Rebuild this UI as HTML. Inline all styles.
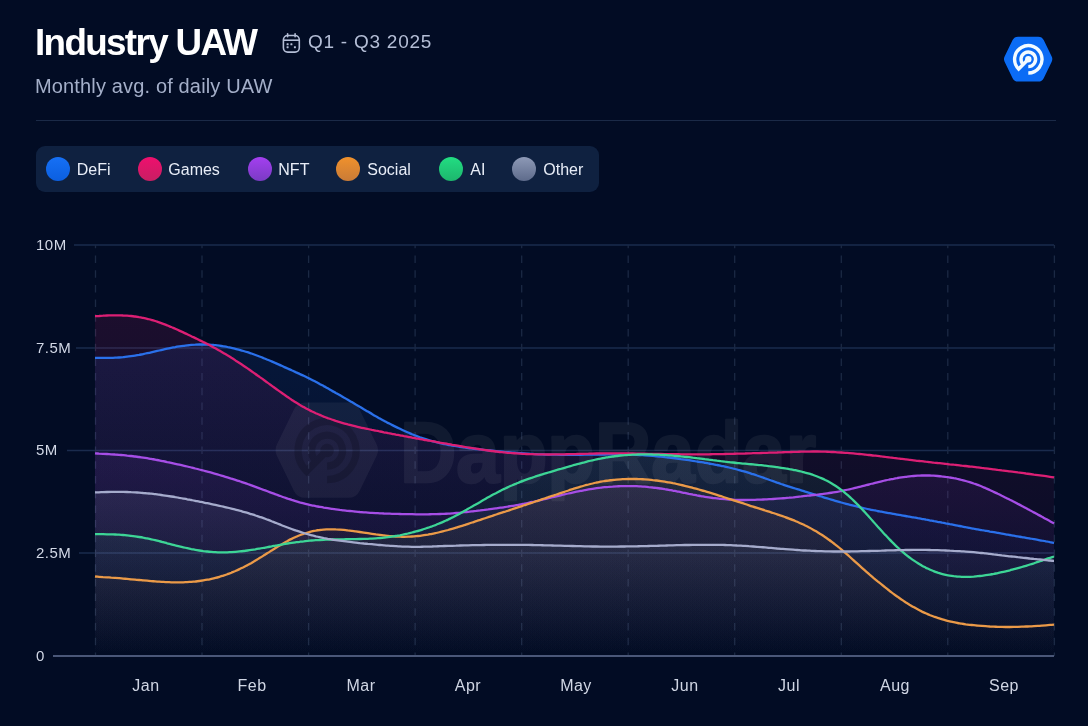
<!DOCTYPE html>
<html><head><meta charset="utf-8"><style>
*{margin:0;padding:0;box-sizing:border-box}
html,body{width:1088px;height:726px;overflow:hidden;background:#020c24;font-family:"Liberation Sans",sans-serif}
.chart{position:absolute;left:0;top:0}
.t{position:absolute;white-space:nowrap}
body>div{will-change:transform}
.title{left:35px;top:22px;font-size:36.8px;font-weight:bold;color:#ffffff;letter-spacing:-1.65px}
.sub{left:34.8px;top:75px;font-size:20px;color:#a4afc9;letter-spacing:0.15px}
.date{left:307.7px;top:31px;font-size:19px;color:#b4bed6;letter-spacing:0.75px}
.divider{position:absolute;left:36px;top:120px;width:1020px;height:1px;background:#1b2a47}
.legend{position:absolute;left:36px;top:146px;width:563px;height:46px;background:#0f2140;border-radius:9px}
.dot{position:absolute;top:10.5px;width:24px;height:24px;border-radius:50%}
.lt{position:absolute;top:15px;font-size:16px;color:#e8edf7}
.yl{position:absolute;left:36px;font-size:15px;color:#d2d8e6;letter-spacing:0.5px}
.ml{position:absolute;top:677px;width:100px;text-align:center;font-size:16px;color:#d0d6e4;letter-spacing:0.5px}
</style></head><body>
<svg class="chart" width="1088" height="726" viewBox="0 0 1088 726">
<defs><linearGradient id="g_games" gradientUnits="userSpaceOnUse" x1="0" y1="315" x2="0" y2="656"><stop offset="0" stop-color="#dc1f74" stop-opacity="0.12"/><stop offset="1" stop-color="#dc1f74" stop-opacity="0"/></linearGradient><linearGradient id="g_defi" gradientUnits="userSpaceOnUse" x1="0" y1="344" x2="0" y2="656"><stop offset="0" stop-color="#2a70ea" stop-opacity="0.11"/><stop offset="1" stop-color="#2a70ea" stop-opacity="0"/></linearGradient><linearGradient id="g_nft" gradientUnits="userSpaceOnUse" x1="0" y1="454" x2="0" y2="656"><stop offset="0" stop-color="#a64ee6" stop-opacity="0.1"/><stop offset="1" stop-color="#a64ee6" stop-opacity="0"/></linearGradient><linearGradient id="g_other" gradientUnits="userSpaceOnUse" x1="0" y1="492" x2="0" y2="656"><stop offset="0" stop-color="#a5abcc" stop-opacity="0.1"/><stop offset="1" stop-color="#a5abcc" stop-opacity="0"/></linearGradient><linearGradient id="g_ai" gradientUnits="userSpaceOnUse" x1="0" y1="454" x2="0" y2="656"><stop offset="0" stop-color="#3dd596" stop-opacity="0.09"/><stop offset="1" stop-color="#3dd596" stop-opacity="0"/></linearGradient><linearGradient id="g_social" gradientUnits="userSpaceOnUse" x1="0" y1="479" x2="0" y2="656"><stop offset="0" stop-color="#eb9a48" stop-opacity="0.07"/><stop offset="1" stop-color="#eb9a48" stop-opacity="0"/></linearGradient></defs>
<line x1="74" y1="245" x2="1054" y2="245" stroke="#1a2b4d" stroke-width="1.5"/><line x1="76" y1="348" x2="1054" y2="348" stroke="#1a2b4d" stroke-width="1.5"/><line x1="67" y1="450.5" x2="1054" y2="450.5" stroke="#1a2b4d" stroke-width="1.5"/><line x1="79" y1="553" x2="1054" y2="553" stroke="#1a2b4d" stroke-width="1.5"/>
<line x1="95.5" y1="245" x2="95.5" y2="656" stroke="#1b2944" stroke-width="1.3" stroke-dasharray="7.5 7.2" stroke-dashoffset="4.2"/><line x1="202.0" y1="245" x2="202.0" y2="656" stroke="#1b2944" stroke-width="1.3" stroke-dasharray="7.5 7.2" stroke-dashoffset="4.2"/><line x1="308.6" y1="245" x2="308.6" y2="656" stroke="#1b2944" stroke-width="1.3" stroke-dasharray="7.5 7.2" stroke-dashoffset="4.2"/><line x1="415.1" y1="245" x2="415.1" y2="656" stroke="#1b2944" stroke-width="1.3" stroke-dasharray="7.5 7.2" stroke-dashoffset="4.2"/><line x1="521.7" y1="245" x2="521.7" y2="656" stroke="#1b2944" stroke-width="1.3" stroke-dasharray="7.5 7.2" stroke-dashoffset="4.2"/><line x1="628.2" y1="245" x2="628.2" y2="656" stroke="#1b2944" stroke-width="1.3" stroke-dasharray="7.5 7.2" stroke-dashoffset="4.2"/><line x1="734.7" y1="245" x2="734.7" y2="656" stroke="#1b2944" stroke-width="1.3" stroke-dasharray="7.5 7.2" stroke-dashoffset="4.2"/><line x1="841.3" y1="245" x2="841.3" y2="656" stroke="#1b2944" stroke-width="1.3" stroke-dasharray="7.5 7.2" stroke-dashoffset="4.2"/><line x1="947.8" y1="245" x2="947.8" y2="656" stroke="#1b2944" stroke-width="1.3" stroke-dasharray="7.5 7.2" stroke-dashoffset="4.2"/><line x1="1054.4" y1="245" x2="1054.4" y2="656" stroke="#1b2944" stroke-width="1.3" stroke-dasharray="7.5 7.2" stroke-dashoffset="4.2"/>
<path d="M95.0,316.2 C95.7,316.2 97.7,316.0 99.0,316.0 C100.4,315.9 101.7,315.8 103.0,315.7 C104.4,315.7 105.7,315.6 107.0,315.5 C108.4,315.5 109.7,315.4 111.1,315.4 C112.4,315.4 113.7,315.3 115.1,315.3 C116.4,315.3 117.7,315.3 119.1,315.3 C120.4,315.4 121.8,315.4 123.1,315.5 C124.4,315.5 125.8,315.6 127.1,315.7 C128.4,315.8 129.8,315.9 131.1,316.0 C132.5,316.2 133.8,316.3 135.1,316.5 C136.5,316.7 137.8,316.9 139.1,317.1 C140.5,317.3 141.8,317.6 143.2,317.9 C144.5,318.2 145.8,318.5 147.2,318.8 C148.5,319.1 149.8,319.5 151.2,319.8 C152.5,320.2 153.9,320.6 155.2,321.0 C156.5,321.4 157.9,321.9 159.2,322.3 C160.5,322.8 161.9,323.3 163.2,323.8 C164.6,324.3 165.9,324.8 167.2,325.4 C168.6,325.9 169.9,326.5 171.2,327.0 C172.6,327.6 173.9,328.2 175.3,328.8 C176.6,329.4 177.9,330.0 179.3,330.6 C180.6,331.2 181.9,331.8 183.3,332.4 C184.6,333.0 186.0,333.7 187.3,334.3 C188.6,334.9 190.0,335.6 191.3,336.2 C192.6,336.8 194.0,337.5 195.3,338.1 C196.7,338.8 198.0,339.4 199.3,340.1 C200.7,340.7 202.0,341.4 203.3,342.1 C204.7,342.7 206.0,343.4 207.4,344.1 C208.7,344.8 210.0,345.5 211.4,346.2 C212.7,346.9 214.0,347.6 215.4,348.3 C216.7,349.0 218.1,349.8 219.4,350.5 C220.7,351.3 222.1,352.1 223.4,352.9 C224.7,353.7 226.1,354.5 227.4,355.3 C228.8,356.1 230.1,356.9 231.4,357.8 C232.8,358.6 234.1,359.5 235.4,360.4 C236.8,361.2 238.1,362.1 239.5,363.0 C240.8,363.9 242.1,364.8 243.5,365.7 C244.8,366.6 246.1,367.5 247.5,368.4 C248.8,369.3 250.2,370.3 251.5,371.2 C252.8,372.1 254.2,373.1 255.5,374.0 C256.8,375.0 258.2,375.9 259.5,376.9 C260.9,377.8 262.2,378.8 263.5,379.7 C264.9,380.7 266.2,381.7 267.5,382.6 C268.9,383.6 270.2,384.6 271.6,385.6 C272.9,386.5 274.2,387.5 275.6,388.5 C276.9,389.4 278.2,390.4 279.6,391.4 C280.9,392.3 282.3,393.3 283.6,394.2 C284.9,395.2 286.3,396.1 287.6,397.0 C288.9,397.9 290.3,398.8 291.6,399.7 C293.0,400.6 294.3,401.5 295.6,402.3 C297.0,403.2 298.3,404.0 299.6,404.8 C301.0,405.6 302.3,406.4 303.7,407.1 C305.0,407.8 306.3,408.6 307.7,409.3 C309.0,410.0 310.3,410.6 311.7,411.3 C313.0,411.9 314.4,412.5 315.7,413.2 C317.0,413.8 318.4,414.3 319.7,414.9 C321.0,415.5 322.4,416.0 323.7,416.6 C325.1,417.1 326.4,417.6 327.7,418.1 C329.1,418.6 330.4,419.1 331.7,419.5 C333.1,420.0 334.4,420.4 335.8,420.9 C337.1,421.3 338.4,421.7 339.8,422.1 C341.1,422.5 342.4,422.9 343.8,423.3 C345.1,423.7 346.5,424.0 347.8,424.4 C349.1,424.7 350.5,425.1 351.8,425.4 C353.1,425.7 354.5,426.0 355.8,426.3 C357.2,426.7 358.5,427.0 359.8,427.3 C361.2,427.6 362.5,427.9 363.8,428.2 C365.2,428.5 366.5,428.7 367.9,429.0 C369.2,429.3 370.5,429.6 371.9,429.9 C373.2,430.1 374.5,430.4 375.9,430.7 C377.2,430.9 378.6,431.2 379.9,431.5 C381.2,431.7 382.6,432.0 383.9,432.3 C385.2,432.5 386.6,432.8 387.9,433.0 C389.3,433.3 390.6,433.5 391.9,433.8 C393.3,434.1 394.6,434.3 395.9,434.6 C397.3,434.8 398.6,435.1 400.0,435.3 C401.3,435.6 402.6,435.8 404.0,436.1 C405.3,436.3 406.6,436.6 408.0,436.8 C409.3,437.1 410.7,437.3 412.0,437.6 C413.3,437.8 414.7,438.1 416.0,438.3 C417.3,438.6 418.7,438.8 420.0,439.1 C421.4,439.3 422.7,439.5 424.0,439.8 C425.4,440.0 426.7,440.3 428.0,440.5 C429.4,440.8 430.7,441.0 432.1,441.2 C433.4,441.5 434.7,441.7 436.1,441.9 C437.4,442.2 438.7,442.4 440.1,442.7 C441.4,442.9 442.8,443.1 444.1,443.4 C445.4,443.6 446.8,443.8 448.1,444.1 C449.4,444.3 450.8,444.5 452.1,444.8 C453.5,445.0 454.8,445.2 456.1,445.4 C457.5,445.7 458.8,445.9 460.1,446.1 C461.5,446.4 462.8,446.6 464.2,446.8 C465.5,447.0 466.8,447.2 468.2,447.5 C469.5,447.7 470.8,447.9 472.2,448.1 C473.5,448.3 474.9,448.5 476.2,448.7 C477.5,448.9 478.9,449.1 480.2,449.3 C481.5,449.5 482.9,449.7 484.2,449.9 C485.6,450.1 486.9,450.3 488.2,450.5 C489.6,450.7 490.9,450.8 492.2,451.0 C493.6,451.2 494.9,451.3 496.3,451.5 C497.6,451.7 498.9,451.8 500.3,452.0 C501.6,452.1 502.9,452.3 504.3,452.4 C505.6,452.5 507.0,452.7 508.3,452.8 C509.6,452.9 511.0,453.0 512.3,453.1 C513.6,453.2 515.0,453.3 516.3,453.4 C517.7,453.5 519.0,453.6 520.3,453.7 C521.7,453.8 523.0,453.8 524.3,453.9 C525.7,454.0 527.0,454.0 528.4,454.1 C529.7,454.1 531.0,454.2 532.4,454.2 C533.7,454.3 535.0,454.3 536.4,454.3 C537.7,454.4 539.1,454.4 540.4,454.4 C541.7,454.4 543.1,454.4 544.4,454.4 C545.7,454.5 547.1,454.5 548.4,454.5 C549.8,454.5 551.1,454.5 552.4,454.4 C553.8,454.4 555.1,454.4 556.4,454.4 C557.8,454.4 559.1,454.4 560.5,454.4 C561.8,454.3 563.1,454.3 564.5,454.3 C565.8,454.3 567.1,454.2 568.5,454.2 C569.8,454.2 571.2,454.1 572.5,454.1 C573.8,454.1 575.2,454.0 576.5,454.0 C577.8,453.9 579.2,453.9 580.5,453.9 C581.9,453.8 583.2,453.8 584.5,453.8 C585.9,453.7 587.2,453.7 588.5,453.7 C589.9,453.6 591.2,453.6 592.6,453.6 C593.9,453.5 595.2,453.5 596.6,453.5 C597.9,453.5 599.2,453.4 600.6,453.4 C601.9,453.4 603.3,453.4 604.6,453.4 C605.9,453.4 607.3,453.4 608.6,453.4 C609.9,453.3 611.3,453.3 612.6,453.3 C614.0,453.3 615.3,453.3 616.6,453.3 C618.0,453.4 619.3,453.4 620.6,453.4 C622.0,453.4 623.3,453.4 624.7,453.4 C626.0,453.4 627.3,453.4 628.7,453.4 C630.0,453.5 631.3,453.5 632.7,453.5 C634.0,453.5 635.4,453.5 636.7,453.6 C638.0,453.6 639.4,453.6 640.7,453.6 C642.0,453.6 643.4,453.7 644.7,453.7 C646.1,453.7 647.4,453.7 648.7,453.8 C650.1,453.8 651.4,453.8 652.7,453.8 C654.1,453.9 655.4,453.9 656.8,453.9 C658.1,453.9 659.4,454.0 660.8,454.0 C662.1,454.0 663.4,454.0 664.8,454.1 C666.1,454.1 667.5,454.1 668.8,454.1 C670.1,454.1 671.5,454.2 672.8,454.2 C674.1,454.2 675.5,454.2 676.8,454.2 C678.2,454.2 679.5,454.3 680.8,454.3 C682.2,454.3 683.5,454.3 684.8,454.3 C686.2,454.3 687.5,454.3 688.9,454.3 C690.2,454.3 691.5,454.4 692.9,454.4 C694.2,454.4 695.5,454.4 696.9,454.4 C698.2,454.4 699.6,454.3 700.9,454.3 C702.2,454.3 703.6,454.3 704.9,454.3 C706.2,454.3 707.6,454.3 708.9,454.3 C710.3,454.3 711.6,454.2 712.9,454.2 C714.3,454.2 715.6,454.2 716.9,454.2 C718.3,454.1 719.6,454.1 721.0,454.1 C722.3,454.1 723.6,454.0 725.0,454.0 C726.3,454.0 727.6,453.9 729.0,453.9 C730.3,453.9 731.7,453.8 733.0,453.8 C734.3,453.8 735.7,453.7 737.0,453.7 C738.3,453.7 739.7,453.6 741.0,453.6 C742.4,453.6 743.7,453.5 745.0,453.5 C746.4,453.4 747.7,453.4 749.0,453.4 C750.4,453.3 751.7,453.3 753.1,453.2 C754.4,453.2 755.7,453.2 757.1,453.1 C758.4,453.1 759.7,453.0 761.1,453.0 C762.4,453.0 763.8,452.9 765.1,452.9 C766.4,452.8 767.8,452.8 769.1,452.7 C770.4,452.7 771.8,452.7 773.1,452.6 C774.5,452.6 775.8,452.5 777.1,452.5 C778.5,452.4 779.8,452.4 781.1,452.3 C782.5,452.3 783.8,452.2 785.2,452.2 C786.5,452.1 787.8,452.1 789.2,452.1 C790.5,452.0 791.8,452.0 793.2,451.9 C794.5,451.9 795.9,451.8 797.2,451.8 C798.5,451.8 799.9,451.7 801.2,451.7 C802.5,451.7 803.9,451.6 805.2,451.6 C806.6,451.6 807.9,451.6 809.2,451.6 C810.6,451.5 811.9,451.5 813.2,451.5 C814.6,451.5 815.9,451.5 817.3,451.5 C818.6,451.6 819.9,451.6 821.3,451.6 C822.6,451.6 823.9,451.7 825.3,451.7 C826.6,451.7 828.0,451.8 829.3,451.8 C830.6,451.9 832.0,452.0 833.3,452.0 C834.6,452.1 836.0,452.2 837.3,452.3 C838.7,452.3 840.0,452.4 841.3,452.5 C842.7,452.6 844.0,452.7 845.3,452.8 C846.7,452.9 848.0,453.0 849.4,453.1 C850.7,453.2 852.0,453.3 853.4,453.4 C854.7,453.6 856.0,453.7 857.4,453.8 C858.7,453.9 860.1,454.1 861.4,454.2 C862.7,454.3 864.1,454.5 865.4,454.6 C866.7,454.7 868.1,454.9 869.4,455.0 C870.8,455.2 872.1,455.3 873.4,455.5 C874.8,455.6 876.1,455.8 877.4,455.9 C878.8,456.1 880.1,456.2 881.5,456.4 C882.8,456.5 884.1,456.7 885.5,456.9 C886.8,457.0 888.1,457.2 889.5,457.4 C890.8,457.5 892.2,457.7 893.5,457.9 C894.8,458.0 896.2,458.2 897.5,458.4 C898.8,458.5 900.2,458.7 901.5,458.8 C902.9,459.0 904.2,459.2 905.5,459.3 C906.9,459.5 908.2,459.7 909.5,459.8 C910.9,460.0 912.2,460.2 913.6,460.3 C914.9,460.5 916.2,460.6 917.6,460.8 C918.9,460.9 920.2,461.1 921.6,461.2 C922.9,461.4 924.3,461.5 925.6,461.7 C926.9,461.8 928.3,462.0 929.6,462.1 C930.9,462.3 932.3,462.4 933.6,462.6 C935.0,462.7 936.3,462.8 937.6,463.0 C939.0,463.1 940.3,463.3 941.6,463.4 C943.0,463.5 944.3,463.7 945.7,463.8 C947.0,464.0 948.3,464.1 949.7,464.3 C951.0,464.4 952.3,464.5 953.7,464.7 C955.0,464.8 956.4,465.0 957.7,465.1 C959.0,465.3 960.4,465.4 961.7,465.6 C963.0,465.7 964.4,465.9 965.7,466.0 C967.1,466.2 968.4,466.3 969.7,466.5 C971.1,466.6 972.4,466.8 973.7,466.9 C975.1,467.1 976.4,467.2 977.8,467.4 C979.1,467.6 980.4,467.7 981.8,467.9 C983.1,468.0 984.4,468.2 985.8,468.3 C987.1,468.5 988.5,468.7 989.8,468.8 C991.1,469.0 992.5,469.1 993.8,469.3 C995.1,469.5 996.5,469.6 997.8,469.8 C999.2,469.9 1000.5,470.1 1001.8,470.3 C1003.2,470.4 1004.5,470.6 1005.8,470.8 C1007.2,471.0 1008.5,471.1 1009.9,471.3 C1011.2,471.5 1012.5,471.7 1013.9,471.8 C1015.2,472.0 1016.5,472.2 1017.9,472.4 C1019.2,472.5 1020.6,472.7 1021.9,472.9 C1023.2,473.1 1024.6,473.3 1025.9,473.5 C1027.2,473.6 1028.6,473.8 1029.9,474.0 C1031.3,474.2 1032.6,474.4 1033.9,474.6 C1035.3,474.7 1036.6,474.9 1037.9,475.1 C1039.3,475.3 1040.6,475.5 1042.0,475.7 C1043.3,475.9 1044.6,476.1 1046.0,476.2 C1047.3,476.4 1048.6,476.6 1050.0,476.8 C1051.3,477.0 1053.3,477.3 1054.0,477.4 L1054,656 L95,656 Z" fill="url(#g_games)"/><path d="M95.0,357.9 C95.7,357.9 97.7,357.9 99.0,357.9 C100.4,357.9 101.7,357.9 103.0,357.9 C104.4,357.9 105.7,357.9 107.0,357.9 C108.4,357.9 109.7,357.9 111.1,357.9 C112.4,357.8 113.7,357.8 115.1,357.7 C116.4,357.7 117.7,357.6 119.1,357.5 C120.4,357.4 121.8,357.3 123.1,357.2 C124.4,357.0 125.8,356.9 127.1,356.7 C128.4,356.6 129.8,356.4 131.1,356.2 C132.5,356.0 133.8,355.8 135.1,355.6 C136.5,355.4 137.8,355.1 139.1,354.9 C140.5,354.6 141.8,354.4 143.2,354.1 C144.5,353.8 145.8,353.5 147.2,353.2 C148.5,352.9 149.8,352.6 151.2,352.3 C152.5,352.0 153.9,351.7 155.2,351.4 C156.5,351.1 157.9,350.8 159.2,350.5 C160.5,350.2 161.9,349.9 163.2,349.6 C164.6,349.3 165.9,349.0 167.2,348.7 C168.6,348.4 169.9,348.1 171.2,347.8 C172.6,347.6 173.9,347.3 175.3,347.1 C176.6,346.8 177.9,346.6 179.3,346.4 C180.6,346.2 181.9,346.0 183.3,345.8 C184.6,345.6 186.0,345.5 187.3,345.3 C188.6,345.2 190.0,345.0 191.3,344.9 C192.6,344.8 194.0,344.7 195.3,344.7 C196.7,344.6 198.0,344.5 199.3,344.5 C200.7,344.5 202.0,344.5 203.3,344.5 C204.7,344.5 206.0,344.5 207.4,344.6 C208.7,344.7 210.0,344.7 211.4,344.8 C212.7,344.9 214.0,345.1 215.4,345.2 C216.7,345.3 218.1,345.5 219.4,345.7 C220.7,345.9 222.1,346.1 223.4,346.3 C224.7,346.5 226.1,346.7 227.4,347.0 C228.8,347.3 230.1,347.5 231.4,347.8 C232.8,348.1 234.1,348.5 235.4,348.8 C236.8,349.1 238.1,349.5 239.5,349.8 C240.8,350.2 242.1,350.6 243.5,351.0 C244.8,351.4 246.1,351.8 247.5,352.2 C248.8,352.6 250.2,353.1 251.5,353.5 C252.8,354.0 254.2,354.5 255.5,355.0 C256.8,355.5 258.2,356.0 259.5,356.5 C260.9,357.0 262.2,357.5 263.5,358.1 C264.9,358.6 266.2,359.2 267.5,359.7 C268.9,360.3 270.2,360.8 271.6,361.4 C272.9,362.0 274.2,362.6 275.6,363.1 C276.9,363.7 278.2,364.3 279.6,364.9 C280.9,365.5 282.3,366.1 283.6,366.7 C284.9,367.3 286.3,367.9 287.6,368.5 C288.9,369.1 290.3,369.7 291.6,370.3 C293.0,370.9 294.3,371.5 295.6,372.1 C297.0,372.7 298.3,373.3 299.6,373.9 C301.0,374.5 302.3,375.2 303.7,375.8 C305.0,376.4 306.3,377.1 307.7,377.8 C309.0,378.4 310.3,379.1 311.7,379.8 C313.0,380.5 314.4,381.1 315.7,381.8 C317.0,382.5 318.4,383.2 319.7,384.0 C321.0,384.7 322.4,385.4 323.7,386.1 C325.1,386.8 326.4,387.6 327.7,388.3 C329.1,389.1 330.4,389.8 331.7,390.6 C333.1,391.3 334.4,392.1 335.8,392.9 C337.1,393.6 338.4,394.4 339.8,395.1 C341.1,395.9 342.4,396.7 343.8,397.5 C345.1,398.2 346.5,399.0 347.8,399.8 C349.1,400.6 350.5,401.3 351.8,402.1 C353.1,402.9 354.5,403.7 355.8,404.5 C357.2,405.2 358.5,406.0 359.8,406.8 C361.2,407.6 362.5,408.4 363.8,409.2 C365.2,410.0 366.5,410.8 367.9,411.6 C369.2,412.4 370.5,413.2 371.9,413.9 C373.2,414.7 374.5,415.5 375.9,416.3 C377.2,417.0 378.6,417.8 379.9,418.5 C381.2,419.3 382.6,420.0 383.9,420.7 C385.2,421.4 386.6,422.2 387.9,422.9 C389.3,423.6 390.6,424.2 391.9,424.9 C393.3,425.6 394.6,426.3 395.9,426.9 C397.3,427.6 398.6,428.2 400.0,428.8 C401.3,429.5 402.6,430.1 404.0,430.7 C405.3,431.3 406.6,431.9 408.0,432.5 C409.3,433.1 410.7,433.6 412.0,434.2 C413.3,434.7 414.7,435.3 416.0,435.8 C417.3,436.3 418.7,436.8 420.0,437.3 C421.4,437.7 422.7,438.2 424.0,438.6 C425.4,439.1 426.7,439.5 428.0,439.9 C429.4,440.3 430.7,440.7 432.1,441.1 C433.4,441.5 434.7,441.8 436.1,442.2 C437.4,442.5 438.7,442.8 440.1,443.2 C441.4,443.5 442.8,443.8 444.1,444.0 C445.4,444.3 446.8,444.6 448.1,444.8 C449.4,445.1 450.8,445.3 452.1,445.6 C453.5,445.8 454.8,446.0 456.1,446.2 C457.5,446.5 458.8,446.7 460.1,446.9 C461.5,447.1 462.8,447.2 464.2,447.4 C465.5,447.6 466.8,447.8 468.2,448.0 C469.5,448.1 470.8,448.3 472.2,448.5 C473.5,448.6 474.9,448.8 476.2,449.0 C477.5,449.1 478.9,449.3 480.2,449.4 C481.5,449.6 482.9,449.7 484.2,449.9 C485.6,450.0 486.9,450.2 488.2,450.3 C489.6,450.4 490.9,450.6 492.2,450.7 C493.6,450.8 494.9,451.0 496.3,451.1 C497.6,451.2 498.9,451.4 500.3,451.5 C501.6,451.6 502.9,451.7 504.3,451.9 C505.6,452.0 507.0,452.1 508.3,452.2 C509.6,452.3 511.0,452.5 512.3,452.6 C513.6,452.7 515.0,452.8 516.3,452.9 C517.7,453.0 519.0,453.1 520.3,453.2 C521.7,453.3 523.0,453.4 524.3,453.5 C525.7,453.6 527.0,453.6 528.4,453.7 C529.7,453.8 531.0,453.9 532.4,453.9 C533.7,454.0 535.0,454.1 536.4,454.1 C537.7,454.2 539.1,454.3 540.4,454.3 C541.7,454.4 543.1,454.4 544.4,454.5 C545.7,454.5 547.1,454.5 548.4,454.6 C549.8,454.6 551.1,454.6 552.4,454.7 C553.8,454.7 555.1,454.7 556.4,454.7 C557.8,454.8 559.1,454.8 560.5,454.8 C561.8,454.8 563.1,454.8 564.5,454.8 C565.8,454.8 567.1,454.8 568.5,454.8 C569.8,454.8 571.2,454.8 572.5,454.8 C573.8,454.8 575.2,454.8 576.5,454.8 C577.8,454.8 579.2,454.8 580.5,454.8 C581.9,454.7 583.2,454.7 584.5,454.7 C585.9,454.7 587.2,454.7 588.5,454.7 C589.9,454.7 591.2,454.6 592.6,454.6 C593.9,454.6 595.2,454.6 596.6,454.6 C597.9,454.5 599.2,454.5 600.6,454.5 C601.9,454.5 603.3,454.5 604.6,454.5 C605.9,454.5 607.3,454.4 608.6,454.4 C609.9,454.4 611.3,454.4 612.6,454.4 C614.0,454.4 615.3,454.4 616.6,454.4 C618.0,454.4 619.3,454.4 620.6,454.4 C622.0,454.4 623.3,454.5 624.7,454.5 C626.0,454.5 627.3,454.5 628.7,454.6 C630.0,454.6 631.3,454.6 632.7,454.7 C634.0,454.7 635.4,454.8 636.7,454.9 C638.0,454.9 639.4,455.0 640.7,455.1 C642.0,455.2 643.4,455.2 644.7,455.3 C646.1,455.4 647.4,455.5 648.7,455.6 C650.1,455.7 651.4,455.8 652.7,455.9 C654.1,456.0 655.4,456.2 656.8,456.3 C658.1,456.4 659.4,456.5 660.8,456.7 C662.1,456.8 663.4,456.9 664.8,457.1 C666.1,457.2 667.5,457.4 668.8,457.5 C670.1,457.7 671.5,457.9 672.8,458.0 C674.1,458.2 675.5,458.4 676.8,458.5 C678.2,458.7 679.5,458.9 680.8,459.1 C682.2,459.2 683.5,459.4 684.8,459.6 C686.2,459.8 687.5,460.0 688.9,460.2 C690.2,460.4 691.5,460.6 692.9,460.8 C694.2,461.0 695.5,461.2 696.9,461.5 C698.2,461.7 699.6,461.9 700.9,462.1 C702.2,462.3 703.6,462.5 704.9,462.8 C706.2,463.0 707.6,463.2 708.9,463.5 C710.3,463.7 711.6,464.0 712.9,464.2 C714.3,464.5 715.6,464.7 716.9,465.0 C718.3,465.2 719.6,465.5 721.0,465.8 C722.3,466.1 723.6,466.3 725.0,466.6 C726.3,466.9 727.6,467.2 729.0,467.5 C730.3,467.8 731.7,468.2 733.0,468.5 C734.3,468.8 735.7,469.2 737.0,469.5 C738.3,469.9 739.7,470.2 741.0,470.6 C742.4,471.0 743.7,471.3 745.0,471.7 C746.4,472.1 747.7,472.5 749.0,472.9 C750.4,473.3 751.7,473.8 753.1,474.2 C754.4,474.6 755.7,475.0 757.1,475.5 C758.4,475.9 759.7,476.4 761.1,476.9 C762.4,477.3 763.8,477.8 765.1,478.3 C766.4,478.7 767.8,479.2 769.1,479.7 C770.4,480.2 771.8,480.7 773.1,481.1 C774.5,481.6 775.8,482.1 777.1,482.6 C778.5,483.0 779.8,483.5 781.1,484.0 C782.5,484.4 783.8,484.9 785.2,485.3 C786.5,485.7 787.8,486.2 789.2,486.6 C790.5,487.0 791.8,487.4 793.2,487.9 C794.5,488.3 795.9,488.7 797.2,489.1 C798.5,489.5 799.9,489.9 801.2,490.3 C802.5,490.7 803.9,491.1 805.2,491.6 C806.6,492.0 807.9,492.4 809.2,492.8 C810.6,493.2 811.9,493.6 813.2,494.0 C814.6,494.4 815.9,494.9 817.3,495.3 C818.6,495.7 819.9,496.1 821.3,496.5 C822.6,496.9 823.9,497.4 825.3,497.8 C826.6,498.2 828.0,498.6 829.3,499.0 C830.6,499.4 832.0,499.8 833.3,500.2 C834.6,500.6 836.0,501.0 837.3,501.4 C838.7,501.8 840.0,502.2 841.3,502.5 C842.7,502.9 844.0,503.3 845.3,503.6 C846.7,504.0 848.0,504.3 849.4,504.7 C850.7,505.0 852.0,505.4 853.4,505.7 C854.7,506.0 856.0,506.3 857.4,506.7 C858.7,507.0 860.1,507.3 861.4,507.6 C862.7,507.9 864.1,508.2 865.4,508.5 C866.7,508.8 868.1,509.1 869.4,509.3 C870.8,509.6 872.1,509.9 873.4,510.2 C874.8,510.4 876.1,510.7 877.4,511.0 C878.8,511.2 880.1,511.5 881.5,511.7 C882.8,512.0 884.1,512.2 885.5,512.5 C886.8,512.7 888.1,513.0 889.5,513.2 C890.8,513.5 892.2,513.7 893.5,513.9 C894.8,514.2 896.2,514.4 897.5,514.6 C898.8,514.9 900.2,515.1 901.5,515.3 C902.9,515.6 904.2,515.8 905.5,516.0 C906.9,516.2 908.2,516.5 909.5,516.7 C910.9,516.9 912.2,517.2 913.6,517.4 C914.9,517.6 916.2,517.9 917.6,518.1 C918.9,518.3 920.2,518.6 921.6,518.8 C922.9,519.0 924.3,519.3 925.6,519.5 C926.9,519.8 928.3,520.0 929.6,520.3 C930.9,520.5 932.3,520.8 933.6,521.0 C935.0,521.3 936.3,521.5 937.6,521.8 C939.0,522.0 940.3,522.3 941.6,522.5 C943.0,522.8 944.3,523.0 945.7,523.3 C947.0,523.5 948.3,523.8 949.7,524.1 C951.0,524.3 952.3,524.6 953.7,524.8 C955.0,525.1 956.4,525.4 957.7,525.6 C959.0,525.9 960.4,526.1 961.7,526.4 C963.0,526.7 964.4,526.9 965.7,527.2 C967.1,527.4 968.4,527.7 969.7,527.9 C971.1,528.2 972.4,528.4 973.7,528.7 C975.1,528.9 976.4,529.2 977.8,529.4 C979.1,529.7 980.4,529.9 981.8,530.2 C983.1,530.4 984.4,530.6 985.8,530.9 C987.1,531.1 988.5,531.3 989.8,531.6 C991.1,531.8 992.5,532.0 993.8,532.2 C995.1,532.5 996.5,532.7 997.8,532.9 C999.2,533.2 1000.5,533.4 1001.8,533.6 C1003.2,533.9 1004.5,534.1 1005.8,534.3 C1007.2,534.5 1008.5,534.8 1009.9,535.0 C1011.2,535.2 1012.5,535.5 1013.9,535.7 C1015.2,535.9 1016.5,536.2 1017.9,536.4 C1019.2,536.6 1020.6,536.9 1021.9,537.1 C1023.2,537.3 1024.6,537.6 1025.9,537.8 C1027.2,538.1 1028.6,538.3 1029.9,538.5 C1031.3,538.8 1032.6,539.0 1033.9,539.2 C1035.3,539.5 1036.6,539.7 1037.9,539.9 C1039.3,540.2 1040.6,540.4 1042.0,540.7 C1043.3,540.9 1044.6,541.1 1046.0,541.4 C1047.3,541.6 1048.6,541.8 1050.0,542.1 C1051.3,542.3 1053.3,542.7 1054.0,542.8 L1054,656 L95,656 Z" fill="url(#g_defi)"/><path d="M95.0,453.3 C95.7,453.4 97.7,453.5 99.0,453.6 C100.4,453.6 101.7,453.7 103.0,453.8 C104.4,453.8 105.7,453.9 107.0,454.0 C108.4,454.1 109.7,454.2 111.1,454.3 C112.4,454.3 113.7,454.4 115.1,454.5 C116.4,454.6 117.7,454.7 119.1,454.8 C120.4,454.9 121.8,455.1 123.1,455.2 C124.4,455.3 125.8,455.4 127.1,455.6 C128.4,455.7 129.8,455.9 131.1,456.0 C132.5,456.2 133.8,456.3 135.1,456.5 C136.5,456.7 137.8,456.8 139.1,457.0 C140.5,457.2 141.8,457.4 143.2,457.6 C144.5,457.8 145.8,458.0 147.2,458.2 C148.5,458.4 149.8,458.7 151.2,458.9 C152.5,459.1 153.9,459.4 155.2,459.6 C156.5,459.9 157.9,460.1 159.2,460.4 C160.5,460.7 161.9,460.9 163.2,461.2 C164.6,461.5 165.9,461.8 167.2,462.1 C168.6,462.3 169.9,462.6 171.2,462.9 C172.6,463.2 173.9,463.5 175.3,463.8 C176.6,464.1 177.9,464.4 179.3,464.7 C180.6,465.0 181.9,465.3 183.3,465.6 C184.6,465.9 186.0,466.2 187.3,466.5 C188.6,466.8 190.0,467.2 191.3,467.5 C192.6,467.8 194.0,468.1 195.3,468.5 C196.7,468.8 198.0,469.1 199.3,469.5 C200.7,469.8 202.0,470.2 203.3,470.5 C204.7,470.9 206.0,471.2 207.4,471.6 C208.7,472.0 210.0,472.3 211.4,472.7 C212.7,473.1 214.0,473.5 215.4,473.8 C216.7,474.2 218.1,474.6 219.4,475.0 C220.7,475.4 222.1,475.8 223.4,476.2 C224.7,476.6 226.1,477.0 227.4,477.4 C228.8,477.8 230.1,478.2 231.4,478.7 C232.8,479.1 234.1,479.5 235.4,479.9 C236.8,480.4 238.1,480.8 239.5,481.2 C240.8,481.7 242.1,482.1 243.5,482.6 C244.8,483.1 246.1,483.5 247.5,484.0 C248.8,484.5 250.2,484.9 251.5,485.4 C252.8,485.9 254.2,486.4 255.5,486.9 C256.8,487.4 258.2,487.9 259.5,488.4 C260.9,488.9 262.2,489.4 263.5,489.9 C264.9,490.3 266.2,490.8 267.5,491.3 C268.9,491.8 270.2,492.3 271.6,492.8 C272.9,493.3 274.2,493.8 275.6,494.3 C276.9,494.8 278.2,495.3 279.6,495.8 C280.9,496.3 282.3,496.7 283.6,497.2 C284.9,497.7 286.3,498.1 287.6,498.6 C288.9,499.0 290.3,499.4 291.6,499.9 C293.0,500.3 294.3,500.7 295.6,501.1 C297.0,501.5 298.3,501.9 299.6,502.3 C301.0,502.6 302.3,503.0 303.7,503.3 C305.0,503.7 306.3,504.0 307.7,504.3 C309.0,504.7 310.3,505.0 311.7,505.3 C313.0,505.6 314.4,505.8 315.7,506.1 C317.0,506.4 318.4,506.6 319.7,506.9 C321.0,507.1 322.4,507.3 323.7,507.6 C325.1,507.8 326.4,508.0 327.7,508.2 C329.1,508.4 330.4,508.6 331.7,508.8 C333.1,509.0 334.4,509.2 335.8,509.3 C337.1,509.5 338.4,509.7 339.8,509.9 C341.1,510.0 342.4,510.2 343.8,510.3 C345.1,510.5 346.5,510.6 347.8,510.8 C349.1,510.9 350.5,511.1 351.8,511.2 C353.1,511.3 354.5,511.5 355.8,511.6 C357.2,511.7 358.5,511.8 359.8,512.0 C361.2,512.1 362.5,512.2 363.8,512.3 C365.2,512.4 366.5,512.5 367.9,512.6 C369.2,512.7 370.5,512.8 371.9,512.8 C373.2,512.9 374.5,513.0 375.9,513.1 C377.2,513.2 378.6,513.2 379.9,513.3 C381.2,513.4 382.6,513.4 383.9,513.5 C385.2,513.5 386.6,513.6 387.9,513.6 C389.3,513.7 390.6,513.7 391.9,513.8 C393.3,513.8 394.6,513.8 395.9,513.9 C397.3,513.9 398.6,514.0 400.0,514.0 C401.3,514.0 402.6,514.1 404.0,514.1 C405.3,514.1 406.6,514.1 408.0,514.2 C409.3,514.2 410.7,514.2 412.0,514.2 C413.3,514.2 414.7,514.2 416.0,514.3 C417.3,514.3 418.7,514.3 420.0,514.3 C421.4,514.3 422.7,514.3 424.0,514.3 C425.4,514.3 426.7,514.3 428.0,514.3 C429.4,514.3 430.7,514.2 432.1,514.2 C433.4,514.2 434.7,514.2 436.1,514.1 C437.4,514.1 438.7,514.1 440.1,514.0 C441.4,514.0 442.8,513.9 444.1,513.9 C445.4,513.8 446.8,513.7 448.1,513.6 C449.4,513.6 450.8,513.5 452.1,513.4 C453.5,513.3 454.8,513.1 456.1,513.0 C457.5,512.9 458.8,512.8 460.1,512.7 C461.5,512.5 462.8,512.4 464.2,512.2 C465.5,512.1 466.8,512.0 468.2,511.8 C469.5,511.7 470.8,511.5 472.2,511.3 C473.5,511.2 474.9,511.0 476.2,510.9 C477.5,510.7 478.9,510.5 480.2,510.4 C481.5,510.2 482.9,510.0 484.2,509.9 C485.6,509.7 486.9,509.5 488.2,509.4 C489.6,509.2 490.9,509.0 492.2,508.8 C493.6,508.7 494.9,508.5 496.3,508.3 C497.6,508.1 498.9,507.9 500.3,507.7 C501.6,507.6 502.9,507.4 504.3,507.2 C505.6,507.0 507.0,506.8 508.3,506.5 C509.6,506.3 511.0,506.1 512.3,505.9 C513.6,505.7 515.0,505.4 516.3,505.2 C517.7,505.0 519.0,504.7 520.3,504.5 C521.7,504.2 523.0,503.9 524.3,503.7 C525.7,503.4 527.0,503.1 528.4,502.8 C529.7,502.5 531.0,502.2 532.4,502.0 C533.7,501.7 535.0,501.4 536.4,501.0 C537.7,500.7 539.1,500.4 540.4,500.1 C541.7,499.8 543.1,499.5 544.4,499.2 C545.7,498.8 547.1,498.5 548.4,498.2 C549.8,497.9 551.1,497.6 552.4,497.2 C553.8,496.9 555.1,496.6 556.4,496.3 C557.8,496.0 559.1,495.6 560.5,495.3 C561.8,495.0 563.1,494.7 564.5,494.4 C565.8,494.1 567.1,493.8 568.5,493.5 C569.8,493.2 571.2,492.9 572.5,492.6 C573.8,492.3 575.2,492.0 576.5,491.7 C577.8,491.5 579.2,491.2 580.5,490.9 C581.9,490.7 583.2,490.4 584.5,490.2 C585.9,489.9 587.2,489.7 588.5,489.4 C589.9,489.2 591.2,489.0 592.6,488.8 C593.9,488.6 595.2,488.4 596.6,488.2 C597.9,488.0 599.2,487.8 600.6,487.7 C601.9,487.5 603.3,487.4 604.6,487.2 C605.9,487.1 607.3,487.0 608.6,486.9 C609.9,486.7 611.3,486.6 612.6,486.6 C614.0,486.5 615.3,486.4 616.6,486.3 C618.0,486.3 619.3,486.2 620.6,486.2 C622.0,486.1 623.3,486.1 624.7,486.1 C626.0,486.1 627.3,486.1 628.7,486.1 C630.0,486.1 631.3,486.1 632.7,486.1 C634.0,486.1 635.4,486.2 636.7,486.2 C638.0,486.3 639.4,486.4 640.7,486.4 C642.0,486.5 643.4,486.6 644.7,486.7 C646.1,486.8 647.4,486.9 648.7,487.1 C650.1,487.2 651.4,487.3 652.7,487.5 C654.1,487.6 655.4,487.8 656.8,488.0 C658.1,488.2 659.4,488.3 660.8,488.5 C662.1,488.7 663.4,488.9 664.8,489.2 C666.1,489.4 667.5,489.6 668.8,489.8 C670.1,490.1 671.5,490.3 672.8,490.6 C674.1,490.8 675.5,491.1 676.8,491.3 C678.2,491.6 679.5,491.8 680.8,492.1 C682.2,492.4 683.5,492.7 684.8,492.9 C686.2,493.2 687.5,493.5 688.9,493.8 C690.2,494.0 691.5,494.3 692.9,494.6 C694.2,494.8 695.5,495.1 696.9,495.4 C698.2,495.6 699.6,495.9 700.9,496.1 C702.2,496.3 703.6,496.6 704.9,496.8 C706.2,497.0 707.6,497.2 708.9,497.4 C710.3,497.6 711.6,497.8 712.9,498.0 C714.3,498.1 715.6,498.3 716.9,498.4 C718.3,498.6 719.6,498.7 721.0,498.9 C722.3,499.0 723.6,499.1 725.0,499.2 C726.3,499.3 727.6,499.4 729.0,499.5 C730.3,499.6 731.7,499.7 733.0,499.7 C734.3,499.8 735.7,499.9 737.0,499.9 C738.3,499.9 739.7,500.0 741.0,500.0 C742.4,500.0 743.7,500.0 745.0,500.0 C746.4,500.0 747.7,500.0 749.0,499.9 C750.4,499.9 751.7,499.9 753.1,499.9 C754.4,499.8 755.7,499.8 757.1,499.7 C758.4,499.7 759.7,499.7 761.1,499.6 C762.4,499.5 763.8,499.5 765.1,499.4 C766.4,499.4 767.8,499.3 769.1,499.2 C770.4,499.1 771.8,499.1 773.1,499.0 C774.5,498.9 775.8,498.8 777.1,498.7 C778.5,498.6 779.8,498.5 781.1,498.4 C782.5,498.3 783.8,498.2 785.2,498.1 C786.5,497.9 787.8,497.8 789.2,497.7 C790.5,497.5 791.8,497.4 793.2,497.3 C794.5,497.1 795.9,497.0 797.2,496.8 C798.5,496.7 799.9,496.5 801.2,496.4 C802.5,496.2 803.9,496.1 805.2,495.9 C806.6,495.8 807.9,495.6 809.2,495.5 C810.6,495.3 811.9,495.2 813.2,495.0 C814.6,494.9 815.9,494.7 817.3,494.6 C818.6,494.4 819.9,494.3 821.3,494.1 C822.6,493.9 823.9,493.8 825.3,493.6 C826.6,493.4 828.0,493.2 829.3,493.0 C830.6,492.9 832.0,492.7 833.3,492.4 C834.6,492.2 836.0,492.0 837.3,491.8 C838.7,491.6 840.0,491.3 841.3,491.0 C842.7,490.8 844.0,490.5 845.3,490.2 C846.7,489.9 848.0,489.6 849.4,489.3 C850.7,489.0 852.0,488.7 853.4,488.4 C854.7,488.1 856.0,487.7 857.4,487.4 C858.7,487.1 860.1,486.7 861.4,486.4 C862.7,486.0 864.1,485.7 865.4,485.3 C866.7,485.0 868.1,484.7 869.4,484.3 C870.8,484.0 872.1,483.6 873.4,483.3 C874.8,482.9 876.1,482.6 877.4,482.3 C878.8,482.0 880.1,481.6 881.5,481.3 C882.8,481.0 884.1,480.7 885.5,480.4 C886.8,480.1 888.1,479.8 889.5,479.5 C890.8,479.3 892.2,479.0 893.5,478.8 C894.8,478.5 896.2,478.3 897.5,478.0 C898.8,477.8 900.2,477.6 901.5,477.4 C902.9,477.2 904.2,477.0 905.5,476.8 C906.9,476.6 908.2,476.5 909.5,476.3 C910.9,476.2 912.2,476.1 913.6,476.0 C914.9,475.9 916.2,475.8 917.6,475.7 C918.9,475.6 920.2,475.6 921.6,475.5 C922.9,475.5 924.3,475.5 925.6,475.5 C926.9,475.5 928.3,475.5 929.6,475.5 C930.9,475.6 932.3,475.6 933.6,475.7 C935.0,475.8 936.3,475.9 937.6,476.0 C939.0,476.1 940.3,476.2 941.6,476.4 C943.0,476.5 944.3,476.7 945.7,476.9 C947.0,477.0 948.3,477.2 949.7,477.5 C951.0,477.7 952.3,477.9 953.7,478.2 C955.0,478.4 956.4,478.7 957.7,479.0 C959.0,479.3 960.4,479.6 961.7,480.0 C963.0,480.3 964.4,480.6 965.7,481.0 C967.1,481.4 968.4,481.8 969.7,482.2 C971.1,482.6 972.4,483.0 973.7,483.5 C975.1,484.0 976.4,484.4 977.8,484.9 C979.1,485.4 980.4,486.0 981.8,486.5 C983.1,487.1 984.4,487.6 985.8,488.2 C987.1,488.8 988.5,489.4 989.8,490.0 C991.1,490.6 992.5,491.2 993.8,491.9 C995.1,492.5 996.5,493.1 997.8,493.8 C999.2,494.4 1000.5,495.1 1001.8,495.8 C1003.2,496.4 1004.5,497.1 1005.8,497.7 C1007.2,498.4 1008.5,499.1 1009.9,499.8 C1011.2,500.4 1012.5,501.1 1013.9,501.8 C1015.2,502.5 1016.5,503.2 1017.9,503.9 C1019.2,504.5 1020.6,505.2 1021.9,505.9 C1023.2,506.6 1024.6,507.3 1025.9,508.1 C1027.2,508.8 1028.6,509.5 1029.9,510.2 C1031.3,510.9 1032.6,511.6 1033.9,512.4 C1035.3,513.1 1036.6,513.8 1037.9,514.6 C1039.3,515.3 1040.6,516.0 1042.0,516.8 C1043.3,517.5 1044.6,518.3 1046.0,519.0 C1047.3,519.7 1048.6,520.5 1050.0,521.2 C1051.3,522.0 1053.3,523.1 1054.0,523.5 L1054,656 L95,656 Z" fill="url(#g_nft)"/><path d="M95.0,492.4 C95.7,492.4 97.7,492.3 99.0,492.3 C100.4,492.2 101.7,492.2 103.0,492.1 C104.4,492.1 105.7,492.1 107.0,492.0 C108.4,492.0 109.7,492.0 111.1,491.9 C112.4,491.9 113.7,491.9 115.1,491.9 C116.4,491.9 117.7,491.9 119.1,491.9 C120.4,491.9 121.8,491.9 123.1,491.9 C124.4,492.0 125.8,492.0 127.1,492.0 C128.4,492.1 129.8,492.1 131.1,492.2 C132.5,492.2 133.8,492.3 135.1,492.4 C136.5,492.5 137.8,492.5 139.1,492.6 C140.5,492.7 141.8,492.8 143.2,493.0 C144.5,493.1 145.8,493.2 147.2,493.3 C148.5,493.4 149.8,493.6 151.2,493.7 C152.5,493.9 153.9,494.0 155.2,494.2 C156.5,494.4 157.9,494.5 159.2,494.7 C160.5,494.9 161.9,495.1 163.2,495.3 C164.6,495.5 165.9,495.7 167.2,495.9 C168.6,496.1 169.9,496.3 171.2,496.5 C172.6,496.7 173.9,496.9 175.3,497.2 C176.6,497.4 177.9,497.6 179.3,497.9 C180.6,498.1 181.9,498.3 183.3,498.6 C184.6,498.8 186.0,499.0 187.3,499.3 C188.6,499.5 190.0,499.8 191.3,500.0 C192.6,500.3 194.0,500.6 195.3,500.8 C196.7,501.1 198.0,501.3 199.3,501.6 C200.7,501.9 202.0,502.1 203.3,502.4 C204.7,502.7 206.0,503.0 207.4,503.2 C208.7,503.5 210.0,503.8 211.4,504.1 C212.7,504.4 214.0,504.7 215.4,504.9 C216.7,505.2 218.1,505.5 219.4,505.8 C220.7,506.1 222.1,506.4 223.4,506.7 C224.7,507.0 226.1,507.3 227.4,507.7 C228.8,508.0 230.1,508.3 231.4,508.6 C232.8,508.9 234.1,509.3 235.4,509.6 C236.8,510.0 238.1,510.3 239.5,510.7 C240.8,511.0 242.1,511.4 243.5,511.8 C244.8,512.2 246.1,512.5 247.5,512.9 C248.8,513.3 250.2,513.8 251.5,514.2 C252.8,514.6 254.2,515.0 255.5,515.5 C256.8,515.9 258.2,516.4 259.5,516.8 C260.9,517.3 262.2,517.8 263.5,518.2 C264.9,518.7 266.2,519.2 267.5,519.7 C268.9,520.2 270.2,520.7 271.6,521.3 C272.9,521.8 274.2,522.3 275.6,522.8 C276.9,523.4 278.2,523.9 279.6,524.4 C280.9,524.9 282.3,525.5 283.6,526.0 C284.9,526.5 286.3,527.0 287.6,527.5 C288.9,528.0 290.3,528.5 291.6,529.0 C293.0,529.5 294.3,529.9 295.6,530.4 C297.0,530.9 298.3,531.3 299.6,531.7 C301.0,532.2 302.3,532.6 303.7,533.0 C305.0,533.4 306.3,533.8 307.7,534.2 C309.0,534.6 310.3,534.9 311.7,535.3 C313.0,535.6 314.4,535.9 315.7,536.3 C317.0,536.6 318.4,536.9 319.7,537.2 C321.0,537.5 322.4,537.7 323.7,538.0 C325.1,538.3 326.4,538.5 327.7,538.8 C329.1,539.0 330.4,539.2 331.7,539.5 C333.1,539.7 334.4,539.9 335.8,540.1 C337.1,540.3 338.4,540.5 339.8,540.7 C341.1,540.9 342.4,541.1 343.8,541.2 C345.1,541.4 346.5,541.6 347.8,541.7 C349.1,541.9 350.5,542.1 351.8,542.2 C353.1,542.4 354.5,542.5 355.8,542.6 C357.2,542.8 358.5,542.9 359.8,543.1 C361.2,543.2 362.5,543.3 363.8,543.5 C365.2,543.6 366.5,543.7 367.9,543.9 C369.2,544.0 370.5,544.1 371.9,544.2 C373.2,544.4 374.5,544.5 375.9,544.6 C377.2,544.7 378.6,544.9 379.9,545.0 C381.2,545.1 382.6,545.2 383.9,545.3 C385.2,545.4 386.6,545.5 387.9,545.7 C389.3,545.8 390.6,545.9 391.9,545.9 C393.3,546.0 394.6,546.1 395.9,546.2 C397.3,546.3 398.6,546.4 400.0,546.4 C401.3,546.5 402.6,546.6 404.0,546.6 C405.3,546.7 406.6,546.7 408.0,546.7 C409.3,546.8 410.7,546.8 412.0,546.8 C413.3,546.8 414.7,546.8 416.0,546.8 C417.3,546.8 418.7,546.8 420.0,546.8 C421.4,546.8 422.7,546.7 424.0,546.7 C425.4,546.7 426.7,546.6 428.0,546.6 C429.4,546.6 430.7,546.5 432.1,546.5 C433.4,546.4 434.7,546.4 436.1,546.3 C437.4,546.3 438.7,546.2 440.1,546.2 C441.4,546.1 442.8,546.1 444.1,546.0 C445.4,546.0 446.8,546.0 448.1,545.9 C449.4,545.9 450.8,545.8 452.1,545.8 C453.5,545.7 454.8,545.7 456.1,545.7 C457.5,545.6 458.8,545.6 460.1,545.5 C461.5,545.5 462.8,545.5 464.2,545.4 C465.5,545.4 466.8,545.4 468.2,545.3 C469.5,545.3 470.8,545.3 472.2,545.2 C473.5,545.2 474.9,545.2 476.2,545.1 C477.5,545.1 478.9,545.1 480.2,545.1 C481.5,545.0 482.9,545.0 484.2,545.0 C485.6,545.0 486.9,544.9 488.2,544.9 C489.6,544.9 490.9,544.9 492.2,544.9 C493.6,544.9 494.9,544.8 496.3,544.8 C497.6,544.8 498.9,544.8 500.3,544.8 C501.6,544.8 502.9,544.8 504.3,544.8 C505.6,544.8 507.0,544.8 508.3,544.8 C509.6,544.8 511.0,544.8 512.3,544.8 C513.6,544.8 515.0,544.8 516.3,544.8 C517.7,544.8 519.0,544.8 520.3,544.8 C521.7,544.9 523.0,544.9 524.3,544.9 C525.7,544.9 527.0,544.9 528.4,544.9 C529.7,545.0 531.0,545.0 532.4,545.0 C533.7,545.0 535.0,545.1 536.4,545.1 C537.7,545.1 539.1,545.2 540.4,545.2 C541.7,545.2 543.1,545.3 544.4,545.3 C545.7,545.3 547.1,545.4 548.4,545.4 C549.8,545.4 551.1,545.5 552.4,545.5 C553.8,545.5 555.1,545.6 556.4,545.6 C557.8,545.7 559.1,545.7 560.5,545.7 C561.8,545.8 563.1,545.8 564.5,545.8 C565.8,545.9 567.1,545.9 568.5,545.9 C569.8,546.0 571.2,546.0 572.5,546.0 C573.8,546.1 575.2,546.1 576.5,546.1 C577.8,546.2 579.2,546.2 580.5,546.2 C581.9,546.3 583.2,546.3 584.5,546.3 C585.9,546.4 587.2,546.4 588.5,546.4 C589.9,546.4 591.2,546.4 592.6,546.5 C593.9,546.5 595.2,546.5 596.6,546.5 C597.9,546.5 599.2,546.5 600.6,546.6 C601.9,546.6 603.3,546.6 604.6,546.6 C605.9,546.6 607.3,546.6 608.6,546.6 C609.9,546.6 611.3,546.6 612.6,546.6 C614.0,546.6 615.3,546.6 616.6,546.6 C618.0,546.5 619.3,546.5 620.6,546.5 C622.0,546.5 623.3,546.5 624.7,546.5 C626.0,546.5 627.3,546.4 628.7,546.4 C630.0,546.4 631.3,546.4 632.7,546.4 C634.0,546.3 635.4,546.3 636.7,546.3 C638.0,546.3 639.4,546.2 640.7,546.2 C642.0,546.2 643.4,546.1 644.7,546.1 C646.1,546.1 647.4,546.0 648.7,546.0 C650.1,546.0 651.4,545.9 652.7,545.9 C654.1,545.9 655.4,545.8 656.8,545.8 C658.1,545.8 659.4,545.7 660.8,545.7 C662.1,545.6 663.4,545.6 664.8,545.6 C666.1,545.5 667.5,545.5 668.8,545.4 C670.1,545.4 671.5,545.4 672.8,545.3 C674.1,545.3 675.5,545.3 676.8,545.2 C678.2,545.2 679.5,545.2 680.8,545.1 C682.2,545.1 683.5,545.1 684.8,545.0 C686.2,545.0 687.5,545.0 688.9,545.0 C690.2,544.9 691.5,544.9 692.9,544.9 C694.2,544.9 695.5,544.8 696.9,544.8 C698.2,544.8 699.6,544.8 700.9,544.8 C702.2,544.8 703.6,544.8 704.9,544.8 C706.2,544.8 707.6,544.8 708.9,544.8 C710.3,544.8 711.6,544.8 712.9,544.8 C714.3,544.8 715.6,544.8 716.9,544.8 C718.3,544.9 719.6,544.9 721.0,544.9 C722.3,544.9 723.6,545.0 725.0,545.0 C726.3,545.0 727.6,545.1 729.0,545.1 C730.3,545.2 731.7,545.2 733.0,545.3 C734.3,545.3 735.7,545.4 737.0,545.5 C738.3,545.5 739.7,545.6 741.0,545.7 C742.4,545.8 743.7,545.8 745.0,545.9 C746.4,546.0 747.7,546.1 749.0,546.2 C750.4,546.3 751.7,546.4 753.1,546.5 C754.4,546.6 755.7,546.7 757.1,546.8 C758.4,546.9 759.7,547.0 761.1,547.1 C762.4,547.2 763.8,547.3 765.1,547.4 C766.4,547.5 767.8,547.7 769.1,547.8 C770.4,547.9 771.8,548.0 773.1,548.1 C774.5,548.2 775.8,548.3 777.1,548.5 C778.5,548.6 779.8,548.7 781.1,548.8 C782.5,548.9 783.8,549.0 785.2,549.1 C786.5,549.2 787.8,549.3 789.2,549.4 C790.5,549.5 791.8,549.6 793.2,549.7 C794.5,549.8 795.9,549.9 797.2,550.0 C798.5,550.1 799.9,550.2 801.2,550.3 C802.5,550.4 803.9,550.5 805.2,550.5 C806.6,550.6 807.9,550.7 809.2,550.7 C810.6,550.8 811.9,550.9 813.2,550.9 C814.6,551.0 815.9,551.0 817.3,551.1 C818.6,551.1 819.9,551.2 821.3,551.2 C822.6,551.3 823.9,551.3 825.3,551.3 C826.6,551.4 828.0,551.4 829.3,551.4 C830.6,551.5 832.0,551.5 833.3,551.5 C834.6,551.5 836.0,551.5 837.3,551.5 C838.7,551.5 840.0,551.5 841.3,551.5 C842.7,551.5 844.0,551.5 845.3,551.5 C846.7,551.5 848.0,551.5 849.4,551.5 C850.7,551.5 852.0,551.4 853.4,551.4 C854.7,551.4 856.0,551.4 857.4,551.3 C858.7,551.3 860.1,551.3 861.4,551.2 C862.7,551.2 864.1,551.2 865.4,551.1 C866.7,551.1 868.1,551.1 869.4,551.0 C870.8,551.0 872.1,550.9 873.4,550.9 C874.8,550.9 876.1,550.8 877.4,550.8 C878.8,550.7 880.1,550.7 881.5,550.7 C882.8,550.6 884.1,550.6 885.5,550.5 C886.8,550.5 888.1,550.4 889.5,550.4 C890.8,550.4 892.2,550.3 893.5,550.3 C894.8,550.3 896.2,550.2 897.5,550.2 C898.8,550.1 900.2,550.1 901.5,550.1 C902.9,550.1 904.2,550.0 905.5,550.0 C906.9,550.0 908.2,550.0 909.5,550.0 C910.9,549.9 912.2,549.9 913.6,549.9 C914.9,549.9 916.2,549.9 917.6,549.9 C918.9,549.9 920.2,549.9 921.6,549.9 C922.9,549.9 924.3,549.9 925.6,549.9 C926.9,550.0 928.3,550.0 929.6,550.0 C930.9,550.0 932.3,550.1 933.6,550.1 C935.0,550.1 936.3,550.2 937.6,550.2 C939.0,550.3 940.3,550.3 941.6,550.3 C943.0,550.4 944.3,550.4 945.7,550.5 C947.0,550.6 948.3,550.6 949.7,550.7 C951.0,550.7 952.3,550.8 953.7,550.9 C955.0,550.9 956.4,551.0 957.7,551.1 C959.0,551.2 960.4,551.2 961.7,551.3 C963.0,551.4 964.4,551.5 965.7,551.6 C967.1,551.7 968.4,551.8 969.7,551.9 C971.1,552.0 972.4,552.1 973.7,552.2 C975.1,552.3 976.4,552.5 977.8,552.6 C979.1,552.7 980.4,552.9 981.8,553.0 C983.1,553.1 984.4,553.3 985.8,553.4 C987.1,553.6 988.5,553.7 989.8,553.9 C991.1,554.1 992.5,554.2 993.8,554.4 C995.1,554.5 996.5,554.7 997.8,554.9 C999.2,555.0 1000.5,555.2 1001.8,555.4 C1003.2,555.5 1004.5,555.7 1005.8,555.8 C1007.2,556.0 1008.5,556.1 1009.9,556.3 C1011.2,556.4 1012.5,556.6 1013.9,556.7 C1015.2,556.9 1016.5,557.0 1017.9,557.2 C1019.2,557.3 1020.6,557.5 1021.9,557.6 C1023.2,557.8 1024.6,557.9 1025.9,558.0 C1027.2,558.2 1028.6,558.3 1029.9,558.5 C1031.3,558.6 1032.6,558.7 1033.9,558.9 C1035.3,559.0 1036.6,559.2 1037.9,559.3 C1039.3,559.4 1040.6,559.6 1042.0,559.7 C1043.3,559.8 1044.6,560.0 1046.0,560.1 C1047.3,560.2 1048.6,560.4 1050.0,560.5 C1051.3,560.7 1053.3,560.9 1054.0,560.9 L1054,656 L95,656 Z" fill="url(#g_other)"/><path d="M95.0,534.2 C95.7,534.2 97.7,534.2 99.0,534.2 C100.4,534.2 101.7,534.2 103.0,534.2 C104.4,534.3 105.7,534.3 107.0,534.3 C108.4,534.3 109.7,534.3 111.1,534.4 C112.4,534.4 113.7,534.5 115.1,534.5 C116.4,534.6 117.7,534.7 119.1,534.7 C120.4,534.8 121.8,534.9 123.1,535.0 C124.4,535.1 125.8,535.3 127.1,535.4 C128.4,535.5 129.8,535.7 131.1,535.8 C132.5,536.0 133.8,536.2 135.1,536.4 C136.5,536.6 137.8,536.8 139.1,537.0 C140.5,537.2 141.8,537.4 143.2,537.7 C144.5,537.9 145.8,538.2 147.2,538.4 C148.5,538.7 149.8,539.0 151.2,539.3 C152.5,539.6 153.9,539.9 155.2,540.2 C156.5,540.5 157.9,540.9 159.2,541.2 C160.5,541.6 161.9,541.9 163.2,542.2 C164.6,542.6 165.9,542.9 167.2,543.3 C168.6,543.6 169.9,544.0 171.2,544.3 C172.6,544.7 173.9,545.0 175.3,545.4 C176.6,545.7 177.9,546.1 179.3,546.4 C180.6,546.7 181.9,547.0 183.3,547.3 C184.6,547.6 186.0,547.9 187.3,548.2 C188.6,548.5 190.0,548.8 191.3,549.1 C192.6,549.3 194.0,549.6 195.3,549.8 C196.7,550.1 198.0,550.3 199.3,550.5 C200.7,550.7 202.0,550.9 203.3,551.1 C204.7,551.2 206.0,551.4 207.4,551.5 C208.7,551.7 210.0,551.8 211.4,551.9 C212.7,552.0 214.0,552.1 215.4,552.1 C216.7,552.2 218.1,552.3 219.4,552.3 C220.7,552.3 222.1,552.3 223.4,552.3 C224.7,552.3 226.1,552.3 227.4,552.3 C228.8,552.2 230.1,552.2 231.4,552.1 C232.8,552.0 234.1,551.9 235.4,551.8 C236.8,551.7 238.1,551.6 239.5,551.4 C240.8,551.3 242.1,551.2 243.5,551.0 C244.8,550.8 246.1,550.7 247.5,550.5 C248.8,550.3 250.2,550.1 251.5,549.9 C252.8,549.7 254.2,549.5 255.5,549.3 C256.8,549.0 258.2,548.8 259.5,548.6 C260.9,548.3 262.2,548.1 263.5,547.9 C264.9,547.6 266.2,547.4 267.5,547.1 C268.9,546.9 270.2,546.6 271.6,546.4 C272.9,546.1 274.2,545.9 275.6,545.6 C276.9,545.4 278.2,545.1 279.6,544.9 C280.9,544.6 282.3,544.4 283.6,544.2 C284.9,543.9 286.3,543.7 287.6,543.5 C288.9,543.3 290.3,543.1 291.6,542.9 C293.0,542.7 294.3,542.5 295.6,542.3 C297.0,542.1 298.3,541.9 299.6,541.8 C301.0,541.6 302.3,541.4 303.7,541.3 C305.0,541.1 306.3,541.0 307.7,540.9 C309.0,540.8 310.3,540.6 311.7,540.5 C313.0,540.4 314.4,540.3 315.7,540.2 C317.0,540.1 318.4,540.1 319.7,540.0 C321.0,539.9 322.4,539.8 323.7,539.8 C325.1,539.7 326.4,539.7 327.7,539.6 C329.1,539.6 330.4,539.5 331.7,539.5 C333.1,539.5 334.4,539.4 335.8,539.4 C337.1,539.4 338.4,539.3 339.8,539.3 C341.1,539.3 342.4,539.3 343.8,539.3 C345.1,539.3 346.5,539.2 347.8,539.2 C349.1,539.2 350.5,539.2 351.8,539.2 C353.1,539.2 354.5,539.1 355.8,539.1 C357.2,539.1 358.5,539.1 359.8,539.0 C361.2,539.0 362.5,539.0 363.8,538.9 C365.2,538.9 366.5,538.9 367.9,538.8 C369.2,538.7 370.5,538.7 371.9,538.6 C373.2,538.5 374.5,538.4 375.9,538.3 C377.2,538.2 378.6,538.1 379.9,538.0 C381.2,537.9 382.6,537.8 383.9,537.6 C385.2,537.5 386.6,537.3 387.9,537.2 C389.3,537.0 390.6,536.8 391.9,536.6 C393.3,536.4 394.6,536.2 395.9,536.0 C397.3,535.8 398.6,535.5 400.0,535.3 C401.3,535.0 402.6,534.7 404.0,534.4 C405.3,534.2 406.6,533.8 408.0,533.5 C409.3,533.2 410.7,532.9 412.0,532.5 C413.3,532.2 414.7,531.8 416.0,531.4 C417.3,531.1 418.7,530.7 420.0,530.3 C421.4,529.9 422.7,529.4 424.0,529.0 C425.4,528.6 426.7,528.1 428.0,527.7 C429.4,527.2 430.7,526.8 432.1,526.3 C433.4,525.8 434.7,525.3 436.1,524.8 C437.4,524.2 438.7,523.7 440.1,523.1 C441.4,522.6 442.8,522.0 444.1,521.4 C445.4,520.8 446.8,520.2 448.1,519.6 C449.4,518.9 450.8,518.3 452.1,517.6 C453.5,516.9 454.8,516.3 456.1,515.5 C457.5,514.8 458.8,514.1 460.1,513.4 C461.5,512.6 462.8,511.9 464.2,511.1 C465.5,510.4 466.8,509.6 468.2,508.8 C469.5,508.1 470.8,507.3 472.2,506.5 C473.5,505.7 474.9,505.0 476.2,504.2 C477.5,503.4 478.9,502.6 480.2,501.9 C481.5,501.1 482.9,500.3 484.2,499.6 C485.6,498.8 486.9,498.0 488.2,497.3 C489.6,496.6 490.9,495.8 492.2,495.1 C493.6,494.4 494.9,493.7 496.3,493.0 C497.6,492.3 498.9,491.6 500.3,490.9 C501.6,490.2 502.9,489.6 504.3,488.9 C505.6,488.3 507.0,487.7 508.3,487.0 C509.6,486.4 511.0,485.8 512.3,485.3 C513.6,484.7 515.0,484.1 516.3,483.6 C517.7,483.0 519.0,482.5 520.3,481.9 C521.7,481.4 523.0,480.9 524.3,480.4 C525.7,479.9 527.0,479.4 528.4,478.9 C529.7,478.5 531.0,478.0 532.4,477.6 C533.7,477.1 535.0,476.7 536.4,476.2 C537.7,475.8 539.1,475.4 540.4,474.9 C541.7,474.5 543.1,474.1 544.4,473.7 C545.7,473.3 547.1,472.9 548.4,472.5 C549.8,472.1 551.1,471.7 552.4,471.3 C553.8,470.9 555.1,470.5 556.4,470.1 C557.8,469.8 559.1,469.4 560.5,469.0 C561.8,468.6 563.1,468.2 564.5,467.8 C565.8,467.4 567.1,467.0 568.5,466.7 C569.8,466.3 571.2,465.9 572.5,465.5 C573.8,465.1 575.2,464.8 576.5,464.4 C577.8,464.0 579.2,463.7 580.5,463.3 C581.9,462.9 583.2,462.6 584.5,462.3 C585.9,461.9 587.2,461.6 588.5,461.2 C589.9,460.9 591.2,460.6 592.6,460.3 C593.9,460.0 595.2,459.7 596.6,459.4 C597.9,459.1 599.2,458.8 600.6,458.6 C601.9,458.3 603.3,458.0 604.6,457.8 C605.9,457.6 607.3,457.3 608.6,457.1 C609.9,456.9 611.3,456.7 612.6,456.5 C614.0,456.3 615.3,456.2 616.6,456.0 C618.0,455.8 619.3,455.7 620.6,455.5 C622.0,455.4 623.3,455.3 624.7,455.2 C626.0,455.0 627.3,454.9 628.7,454.8 C630.0,454.8 631.3,454.7 632.7,454.6 C634.0,454.6 635.4,454.5 636.7,454.5 C638.0,454.4 639.4,454.4 640.7,454.4 C642.0,454.3 643.4,454.3 644.7,454.3 C646.1,454.3 647.4,454.4 648.7,454.4 C650.1,454.4 651.4,454.4 652.7,454.5 C654.1,454.5 655.4,454.5 656.8,454.6 C658.1,454.7 659.4,454.7 660.8,454.8 C662.1,454.9 663.4,454.9 664.8,455.0 C666.1,455.1 667.5,455.2 668.8,455.3 C670.1,455.4 671.5,455.5 672.8,455.6 C674.1,455.7 675.5,455.9 676.8,456.0 C678.2,456.1 679.5,456.2 680.8,456.4 C682.2,456.5 683.5,456.6 684.8,456.8 C686.2,456.9 687.5,457.1 688.9,457.2 C690.2,457.4 691.5,457.5 692.9,457.7 C694.2,457.8 695.5,458.0 696.9,458.2 C698.2,458.3 699.6,458.5 700.9,458.6 C702.2,458.8 703.6,459.0 704.9,459.2 C706.2,459.3 707.6,459.5 708.9,459.7 C710.3,459.8 711.6,460.0 712.9,460.2 C714.3,460.3 715.6,460.5 716.9,460.7 C718.3,460.8 719.6,461.0 721.0,461.2 C722.3,461.3 723.6,461.5 725.0,461.7 C726.3,461.8 727.6,462.0 729.0,462.1 C730.3,462.3 731.7,462.4 733.0,462.5 C734.3,462.7 735.7,462.8 737.0,463.0 C738.3,463.1 739.7,463.2 741.0,463.3 C742.4,463.5 743.7,463.6 745.0,463.7 C746.4,463.8 747.7,464.0 749.0,464.1 C750.4,464.2 751.7,464.3 753.1,464.4 C754.4,464.6 755.7,464.7 757.1,464.8 C758.4,465.0 759.7,465.1 761.1,465.2 C762.4,465.4 763.8,465.5 765.1,465.7 C766.4,465.9 767.8,466.0 769.1,466.2 C770.4,466.3 771.8,466.5 773.1,466.7 C774.5,466.9 775.8,467.0 777.1,467.2 C778.5,467.4 779.8,467.6 781.1,467.8 C782.5,468.0 783.8,468.2 785.2,468.4 C786.5,468.6 787.8,468.9 789.2,469.1 C790.5,469.3 791.8,469.6 793.2,469.8 C794.5,470.1 795.9,470.3 797.2,470.6 C798.5,470.9 799.9,471.2 801.2,471.5 C802.5,471.9 803.9,472.2 805.2,472.6 C806.6,472.9 807.9,473.3 809.2,473.7 C810.6,474.1 811.9,474.6 813.2,475.0 C814.6,475.5 815.9,476.0 817.3,476.5 C818.6,477.0 819.9,477.5 821.3,478.1 C822.6,478.7 823.9,479.3 825.3,480.0 C826.6,480.6 828.0,481.3 829.3,482.1 C830.6,482.8 832.0,483.6 833.3,484.4 C834.6,485.2 836.0,486.1 837.3,487.0 C838.7,487.9 840.0,488.9 841.3,489.9 C842.7,490.9 844.0,492.0 845.3,493.1 C846.7,494.2 848.0,495.4 849.4,496.6 C850.7,497.8 852.0,499.1 853.4,500.4 C854.7,501.7 856.0,503.0 857.4,504.3 C858.7,505.7 860.1,507.1 861.4,508.5 C862.7,509.9 864.1,511.4 865.4,512.8 C866.7,514.3 868.1,515.8 869.4,517.3 C870.8,518.8 872.1,520.3 873.4,521.8 C874.8,523.3 876.1,524.8 877.4,526.3 C878.8,527.8 880.1,529.3 881.5,530.8 C882.8,532.2 884.1,533.7 885.5,535.1 C886.8,536.6 888.1,538.0 889.5,539.4 C890.8,540.8 892.2,542.1 893.5,543.4 C894.8,544.8 896.2,546.1 897.5,547.3 C898.8,548.6 900.2,549.8 901.5,551.0 C902.9,552.2 904.2,553.3 905.5,554.4 C906.9,555.5 908.2,556.5 909.5,557.5 C910.9,558.5 912.2,559.5 913.6,560.4 C914.9,561.3 916.2,562.2 917.6,563.0 C918.9,563.9 920.2,564.7 921.6,565.4 C922.9,566.2 924.3,566.9 925.6,567.6 C926.9,568.2 928.3,568.9 929.6,569.5 C930.9,570.1 932.3,570.6 933.6,571.1 C935.0,571.7 936.3,572.1 937.6,572.6 C939.0,573.0 940.3,573.4 941.6,573.8 C943.0,574.2 944.3,574.5 945.7,574.8 C947.0,575.1 948.3,575.4 949.7,575.6 C951.0,575.8 952.3,576.0 953.7,576.2 C955.0,576.3 956.4,576.5 957.7,576.6 C959.0,576.7 960.4,576.7 961.7,576.8 C963.0,576.8 964.4,576.8 965.7,576.8 C967.1,576.8 968.4,576.8 969.7,576.8 C971.1,576.7 972.4,576.6 973.7,576.6 C975.1,576.5 976.4,576.4 977.8,576.2 C979.1,576.1 980.4,575.9 981.8,575.8 C983.1,575.6 984.4,575.4 985.8,575.2 C987.1,575.0 988.5,574.8 989.8,574.6 C991.1,574.4 992.5,574.1 993.8,573.9 C995.1,573.6 996.5,573.4 997.8,573.1 C999.2,572.8 1000.5,572.5 1001.8,572.2 C1003.2,571.9 1004.5,571.6 1005.8,571.3 C1007.2,571.0 1008.5,570.6 1009.9,570.3 C1011.2,569.9 1012.5,569.6 1013.9,569.2 C1015.2,568.9 1016.5,568.5 1017.9,568.1 C1019.2,567.8 1020.6,567.4 1021.9,567.0 C1023.2,566.6 1024.6,566.2 1025.9,565.8 C1027.2,565.4 1028.6,565.0 1029.9,564.5 C1031.3,564.1 1032.6,563.7 1033.9,563.3 C1035.3,562.8 1036.6,562.4 1037.9,561.9 C1039.3,561.5 1040.6,561.0 1042.0,560.6 C1043.3,560.1 1044.6,559.7 1046.0,559.2 C1047.3,558.8 1048.6,558.3 1050.0,557.8 C1051.3,557.4 1053.3,556.7 1054.0,556.5 L1054,656 L95,656 Z" fill="url(#g_ai)"/><path d="M95.0,576.5 C95.7,576.6 97.7,576.7 99.0,576.8 C100.4,576.9 101.7,577.0 103.0,577.1 C104.4,577.1 105.7,577.2 107.0,577.3 C108.4,577.4 109.7,577.5 111.1,577.6 C112.4,577.7 113.7,577.8 115.1,577.9 C116.4,578.0 117.7,578.1 119.1,578.2 C120.4,578.3 121.8,578.4 123.1,578.6 C124.4,578.7 125.8,578.8 127.1,578.9 C128.4,579.0 129.8,579.2 131.1,579.3 C132.5,579.4 133.8,579.5 135.1,579.6 C136.5,579.8 137.8,579.9 139.1,580.0 C140.5,580.1 141.8,580.3 143.2,580.4 C144.5,580.5 145.8,580.6 147.2,580.7 C148.5,580.9 149.8,581.0 151.2,581.1 C152.5,581.2 153.9,581.3 155.2,581.4 C156.5,581.5 157.9,581.6 159.2,581.7 C160.5,581.8 161.9,581.9 163.2,581.9 C164.6,582.0 165.9,582.1 167.2,582.1 C168.6,582.2 169.9,582.2 171.2,582.3 C172.6,582.3 173.9,582.3 175.3,582.3 C176.6,582.4 177.9,582.4 179.3,582.3 C180.6,582.3 181.9,582.3 183.3,582.3 C184.6,582.2 186.0,582.2 187.3,582.1 C188.6,582.0 190.0,581.9 191.3,581.8 C192.6,581.7 194.0,581.6 195.3,581.5 C196.7,581.3 198.0,581.2 199.3,581.0 C200.7,580.8 202.0,580.6 203.3,580.4 C204.7,580.2 206.0,580.0 207.4,579.7 C208.7,579.5 210.0,579.2 211.4,578.9 C212.7,578.6 214.0,578.3 215.4,577.9 C216.7,577.6 218.1,577.2 219.4,576.8 C220.7,576.5 222.1,576.0 223.4,575.6 C224.7,575.2 226.1,574.7 227.4,574.2 C228.8,573.7 230.1,573.2 231.4,572.7 C232.8,572.1 234.1,571.5 235.4,571.0 C236.8,570.4 238.1,569.8 239.5,569.1 C240.8,568.5 242.1,567.8 243.5,567.2 C244.8,566.5 246.1,565.8 247.5,565.1 C248.8,564.4 250.2,563.6 251.5,562.9 C252.8,562.1 254.2,561.3 255.5,560.5 C256.8,559.8 258.2,558.9 259.5,558.1 C260.9,557.3 262.2,556.5 263.5,555.6 C264.9,554.8 266.2,553.9 267.5,553.1 C268.9,552.3 270.2,551.4 271.6,550.6 C272.9,549.7 274.2,548.9 275.6,548.0 C276.9,547.2 278.2,546.4 279.6,545.6 C280.9,544.8 282.3,544.0 283.6,543.2 C284.9,542.4 286.3,541.7 287.6,541.0 C288.9,540.2 290.3,539.5 291.6,538.9 C293.0,538.2 294.3,537.6 295.6,537.0 C297.0,536.4 298.3,535.8 299.6,535.3 C301.0,534.7 302.3,534.2 303.7,533.8 C305.0,533.3 306.3,532.9 307.7,532.5 C309.0,532.1 310.3,531.7 311.7,531.4 C313.0,531.1 314.4,530.8 315.7,530.6 C317.0,530.3 318.4,530.1 319.7,530.0 C321.0,529.8 322.4,529.7 323.7,529.6 C325.1,529.4 326.4,529.4 327.7,529.3 C329.1,529.3 330.4,529.3 331.7,529.3 C333.1,529.3 334.4,529.3 335.8,529.4 C337.1,529.4 338.4,529.5 339.8,529.6 C341.1,529.7 342.4,529.8 343.8,529.9 C345.1,530.1 346.5,530.2 347.8,530.4 C349.1,530.5 350.5,530.7 351.8,530.9 C353.1,531.1 354.5,531.2 355.8,531.4 C357.2,531.6 358.5,531.8 359.8,532.0 C361.2,532.2 362.5,532.4 363.8,532.6 C365.2,532.8 366.5,533.0 367.9,533.2 C369.2,533.4 370.5,533.6 371.9,533.8 C373.2,534.0 374.5,534.2 375.9,534.4 C377.2,534.5 378.6,534.7 379.9,534.9 C381.2,535.1 382.6,535.2 383.9,535.4 C385.2,535.6 386.6,535.7 387.9,535.8 C389.3,536.0 390.6,536.1 391.9,536.2 C393.3,536.3 394.6,536.4 395.9,536.5 C397.3,536.6 398.6,536.7 400.0,536.7 C401.3,536.7 402.6,536.8 404.0,536.8 C405.3,536.8 406.6,536.8 408.0,536.7 C409.3,536.7 410.7,536.6 412.0,536.5 C413.3,536.5 414.7,536.4 416.0,536.2 C417.3,536.1 418.7,535.9 420.0,535.8 C421.4,535.6 422.7,535.4 424.0,535.2 C425.4,535.0 426.7,534.8 428.0,534.6 C429.4,534.3 430.7,534.1 432.1,533.8 C433.4,533.6 434.7,533.3 436.1,533.0 C437.4,532.7 438.7,532.4 440.1,532.0 C441.4,531.7 442.8,531.4 444.1,531.0 C445.4,530.7 446.8,530.3 448.1,530.0 C449.4,529.6 450.8,529.2 452.1,528.8 C453.5,528.5 454.8,528.1 456.1,527.7 C457.5,527.3 458.8,526.8 460.1,526.4 C461.5,526.0 462.8,525.6 464.2,525.2 C465.5,524.7 466.8,524.3 468.2,523.8 C469.5,523.4 470.8,523.0 472.2,522.5 C473.5,522.1 474.9,521.6 476.2,521.2 C477.5,520.7 478.9,520.3 480.2,519.9 C481.5,519.4 482.9,519.0 484.2,518.5 C485.6,518.1 486.9,517.6 488.2,517.2 C489.6,516.7 490.9,516.3 492.2,515.9 C493.6,515.4 494.9,515.0 496.3,514.5 C497.6,514.1 498.9,513.7 500.3,513.2 C501.6,512.8 502.9,512.3 504.3,511.9 C505.6,511.5 507.0,511.0 508.3,510.6 C509.6,510.1 511.0,509.7 512.3,509.2 C513.6,508.8 515.0,508.4 516.3,507.9 C517.7,507.5 519.0,507.0 520.3,506.6 C521.7,506.1 523.0,505.7 524.3,505.2 C525.7,504.8 527.0,504.3 528.4,503.9 C529.7,503.5 531.0,503.0 532.4,502.6 C533.7,502.1 535.0,501.7 536.4,501.2 C537.7,500.8 539.1,500.3 540.4,499.9 C541.7,499.4 543.1,499.0 544.4,498.5 C545.7,498.1 547.1,497.6 548.4,497.2 C549.8,496.7 551.1,496.3 552.4,495.8 C553.8,495.4 555.1,494.9 556.4,494.5 C557.8,494.0 559.1,493.6 560.5,493.1 C561.8,492.7 563.1,492.2 564.5,491.8 C565.8,491.3 567.1,490.9 568.5,490.5 C569.8,490.0 571.2,489.6 572.5,489.2 C573.8,488.7 575.2,488.3 576.5,487.9 C577.8,487.5 579.2,487.1 580.5,486.7 C581.9,486.3 583.2,485.9 584.5,485.5 C585.9,485.2 587.2,484.8 588.5,484.5 C589.9,484.1 591.2,483.8 592.6,483.5 C593.9,483.1 595.2,482.8 596.6,482.5 C597.9,482.3 599.2,482.0 600.6,481.7 C601.9,481.5 603.3,481.3 604.6,481.0 C605.9,480.8 607.3,480.6 608.6,480.5 C609.9,480.3 611.3,480.1 612.6,480.0 C614.0,479.8 615.3,479.7 616.6,479.6 C618.0,479.5 619.3,479.4 620.6,479.3 C622.0,479.2 623.3,479.2 624.7,479.1 C626.0,479.0 627.3,479.0 628.7,479.0 C630.0,479.0 631.3,479.0 632.7,479.0 C634.0,479.0 635.4,479.0 636.7,479.0 C638.0,479.0 639.4,479.1 640.7,479.1 C642.0,479.2 643.4,479.3 644.7,479.4 C646.1,479.5 647.4,479.6 648.7,479.7 C650.1,479.8 651.4,479.9 652.7,480.1 C654.1,480.2 655.4,480.4 656.8,480.5 C658.1,480.7 659.4,480.9 660.8,481.1 C662.1,481.3 663.4,481.5 664.8,481.7 C666.1,481.9 667.5,482.2 668.8,482.4 C670.1,482.6 671.5,482.9 672.8,483.2 C674.1,483.4 675.5,483.7 676.8,484.0 C678.2,484.3 679.5,484.6 680.8,484.9 C682.2,485.2 683.5,485.5 684.8,485.8 C686.2,486.1 687.5,486.5 688.9,486.8 C690.2,487.2 691.5,487.5 692.9,487.9 C694.2,488.2 695.5,488.6 696.9,488.9 C698.2,489.3 699.6,489.7 700.9,490.1 C702.2,490.5 703.6,490.9 704.9,491.2 C706.2,491.6 707.6,492.0 708.9,492.4 C710.3,492.9 711.6,493.3 712.9,493.7 C714.3,494.1 715.6,494.5 716.9,494.9 C718.3,495.4 719.6,495.8 721.0,496.2 C722.3,496.6 723.6,497.1 725.0,497.5 C726.3,497.9 727.6,498.4 729.0,498.8 C730.3,499.2 731.7,499.7 733.0,500.1 C734.3,500.6 735.7,501.0 737.0,501.4 C738.3,501.9 739.7,502.3 741.0,502.7 C742.4,503.2 743.7,503.6 745.0,504.0 C746.4,504.5 747.7,504.9 749.0,505.3 C750.4,505.8 751.7,506.2 753.1,506.6 C754.4,507.1 755.7,507.5 757.1,507.9 C758.4,508.3 759.7,508.8 761.1,509.2 C762.4,509.6 763.8,510.0 765.1,510.5 C766.4,510.9 767.8,511.3 769.1,511.7 C770.4,512.1 771.8,512.6 773.1,513.0 C774.5,513.4 775.8,513.9 777.1,514.3 C778.5,514.8 779.8,515.2 781.1,515.7 C782.5,516.1 783.8,516.6 785.2,517.1 C786.5,517.6 787.8,518.1 789.2,518.6 C790.5,519.1 791.8,519.6 793.2,520.1 C794.5,520.7 795.9,521.2 797.2,521.8 C798.5,522.4 799.9,522.9 801.2,523.6 C802.5,524.2 803.9,524.8 805.2,525.5 C806.6,526.1 807.9,526.8 809.2,527.5 C810.6,528.2 811.9,528.9 813.2,529.7 C814.6,530.4 815.9,531.2 817.3,532.0 C818.6,532.8 819.9,533.7 821.3,534.5 C822.6,535.4 823.9,536.3 825.3,537.2 C826.6,538.1 828.0,539.0 829.3,540.0 C830.6,541.0 832.0,542.0 833.3,543.0 C834.6,544.0 836.0,545.1 837.3,546.1 C838.7,547.2 840.0,548.3 841.3,549.4 C842.7,550.6 844.0,551.7 845.3,552.9 C846.7,554.1 848.0,555.3 849.4,556.5 C850.7,557.7 852.0,558.9 853.4,560.1 C854.7,561.3 856.0,562.5 857.4,563.7 C858.7,564.9 860.1,566.2 861.4,567.3 C862.7,568.5 864.1,569.7 865.4,570.9 C866.7,572.1 868.1,573.2 869.4,574.4 C870.8,575.5 872.1,576.7 873.4,577.8 C874.8,578.9 876.1,580.0 877.4,581.2 C878.8,582.3 880.1,583.4 881.5,584.4 C882.8,585.5 884.1,586.6 885.5,587.6 C886.8,588.7 888.1,589.7 889.5,590.8 C890.8,591.8 892.2,592.8 893.5,593.8 C894.8,594.8 896.2,595.8 897.5,596.7 C898.8,597.7 900.2,598.6 901.5,599.5 C902.9,600.4 904.2,601.3 905.5,602.2 C906.9,603.1 908.2,603.9 909.5,604.7 C910.9,605.5 912.2,606.3 913.6,607.1 C914.9,607.9 916.2,608.6 917.6,609.3 C918.9,610.0 920.2,610.7 921.6,611.4 C922.9,612.0 924.3,612.7 925.6,613.3 C926.9,613.9 928.3,614.4 929.6,615.0 C930.9,615.5 932.3,616.0 933.6,616.5 C935.0,617.0 936.3,617.5 937.6,617.9 C939.0,618.4 940.3,618.8 941.6,619.2 C943.0,619.6 944.3,620.0 945.7,620.3 C947.0,620.7 948.3,621.0 949.7,621.3 C951.0,621.7 952.3,621.9 953.7,622.2 C955.0,622.5 956.4,622.8 957.7,623.0 C959.0,623.2 960.4,623.5 961.7,623.7 C963.0,623.9 964.4,624.1 965.7,624.3 C967.1,624.4 968.4,624.6 969.7,624.8 C971.1,624.9 972.4,625.1 973.7,625.2 C975.1,625.3 976.4,625.5 977.8,625.6 C979.1,625.7 980.4,625.8 981.8,625.9 C983.1,626.0 984.4,626.1 985.8,626.2 C987.1,626.3 988.5,626.4 989.8,626.5 C991.1,626.5 992.5,626.6 993.8,626.7 C995.1,626.7 996.5,626.8 997.8,626.8 C999.2,626.9 1000.5,626.9 1001.8,626.9 C1003.2,627.0 1004.5,627.0 1005.8,627.0 C1007.2,627.0 1008.5,627.0 1009.9,627.0 C1011.2,627.0 1012.5,627.0 1013.9,626.9 C1015.2,626.9 1016.5,626.9 1017.9,626.8 C1019.2,626.8 1020.6,626.8 1021.9,626.7 C1023.2,626.7 1024.6,626.6 1025.9,626.5 C1027.2,626.5 1028.6,626.4 1029.9,626.3 C1031.3,626.3 1032.6,626.2 1033.9,626.1 C1035.3,626.0 1036.6,625.9 1037.9,625.8 C1039.3,625.8 1040.6,625.7 1042.0,625.6 C1043.3,625.5 1044.6,625.4 1046.0,625.3 C1047.3,625.2 1048.6,625.0 1050.0,624.9 C1051.3,624.8 1053.3,624.7 1054.0,624.6 L1054,656 L95,656 Z" fill="url(#g_social)"/>
<g transform="translate(273.5,399.1) scale(2.118)"><g opacity="0.05"><path d="M7,24.1 L15,7.65 L35.3,7.65 L43.3,24.1 L35.3,40.6 L15,40.6 Z" fill="#ffffff" stroke="#ffffff" stroke-width="12" stroke-linejoin="round"/></g><g opacity="0.18"><g fill="none" stroke="#000008" stroke-width="3.4"><path d="M25.3,38.0 A13.7,13.7 0 1 0 15.61,33.99 L25.3,24.3"/><path d="M25.3,31.6 A7.3,7.3 0 1 0 20.14,29.46"/></g><circle cx="25.3" cy="24.3" r="3.2" fill="#000008"/></g></g><g class="wm" opacity="0.055" fill="#ffffff" stroke="#ffffff" stroke-width="2.5" stroke-linejoin="round">
<text x="400" y="482" font-family="Liberation Sans" font-weight="bold" font-size="86" textLength="416" lengthAdjust="spacingAndGlyphs">DappRadar</text>
</g>
<path d="M95.0,357.9 C95.7,357.9 97.7,357.9 99.0,357.9 C100.4,357.9 101.7,357.9 103.0,357.9 C104.4,357.9 105.7,357.9 107.0,357.9 C108.4,357.9 109.7,357.9 111.1,357.9 C112.4,357.8 113.7,357.8 115.1,357.7 C116.4,357.7 117.7,357.6 119.1,357.5 C120.4,357.4 121.8,357.3 123.1,357.2 C124.4,357.0 125.8,356.9 127.1,356.7 C128.4,356.6 129.8,356.4 131.1,356.2 C132.5,356.0 133.8,355.8 135.1,355.6 C136.5,355.4 137.8,355.1 139.1,354.9 C140.5,354.6 141.8,354.4 143.2,354.1 C144.5,353.8 145.8,353.5 147.2,353.2 C148.5,352.9 149.8,352.6 151.2,352.3 C152.5,352.0 153.9,351.7 155.2,351.4 C156.5,351.1 157.9,350.8 159.2,350.5 C160.5,350.2 161.9,349.9 163.2,349.6 C164.6,349.3 165.9,349.0 167.2,348.7 C168.6,348.4 169.9,348.1 171.2,347.8 C172.6,347.6 173.9,347.3 175.3,347.1 C176.6,346.8 177.9,346.6 179.3,346.4 C180.6,346.2 181.9,346.0 183.3,345.8 C184.6,345.6 186.0,345.5 187.3,345.3 C188.6,345.2 190.0,345.0 191.3,344.9 C192.6,344.8 194.0,344.7 195.3,344.7 C196.7,344.6 198.0,344.5 199.3,344.5 C200.7,344.5 202.0,344.5 203.3,344.5 C204.7,344.5 206.0,344.5 207.4,344.6 C208.7,344.7 210.0,344.7 211.4,344.8 C212.7,344.9 214.0,345.1 215.4,345.2 C216.7,345.3 218.1,345.5 219.4,345.7 C220.7,345.9 222.1,346.1 223.4,346.3 C224.7,346.5 226.1,346.7 227.4,347.0 C228.8,347.3 230.1,347.5 231.4,347.8 C232.8,348.1 234.1,348.5 235.4,348.8 C236.8,349.1 238.1,349.5 239.5,349.8 C240.8,350.2 242.1,350.6 243.5,351.0 C244.8,351.4 246.1,351.8 247.5,352.2 C248.8,352.6 250.2,353.1 251.5,353.5 C252.8,354.0 254.2,354.5 255.5,355.0 C256.8,355.5 258.2,356.0 259.5,356.5 C260.9,357.0 262.2,357.5 263.5,358.1 C264.9,358.6 266.2,359.2 267.5,359.7 C268.9,360.3 270.2,360.8 271.6,361.4 C272.9,362.0 274.2,362.6 275.6,363.1 C276.9,363.7 278.2,364.3 279.6,364.9 C280.9,365.5 282.3,366.1 283.6,366.7 C284.9,367.3 286.3,367.9 287.6,368.5 C288.9,369.1 290.3,369.7 291.6,370.3 C293.0,370.9 294.3,371.5 295.6,372.1 C297.0,372.7 298.3,373.3 299.6,373.9 C301.0,374.5 302.3,375.2 303.7,375.8 C305.0,376.4 306.3,377.1 307.7,377.8 C309.0,378.4 310.3,379.1 311.7,379.8 C313.0,380.5 314.4,381.1 315.7,381.8 C317.0,382.5 318.4,383.2 319.7,384.0 C321.0,384.7 322.4,385.4 323.7,386.1 C325.1,386.8 326.4,387.6 327.7,388.3 C329.1,389.1 330.4,389.8 331.7,390.6 C333.1,391.3 334.4,392.1 335.8,392.9 C337.1,393.6 338.4,394.4 339.8,395.1 C341.1,395.9 342.4,396.7 343.8,397.5 C345.1,398.2 346.5,399.0 347.8,399.8 C349.1,400.6 350.5,401.3 351.8,402.1 C353.1,402.9 354.5,403.7 355.8,404.5 C357.2,405.2 358.5,406.0 359.8,406.8 C361.2,407.6 362.5,408.4 363.8,409.2 C365.2,410.0 366.5,410.8 367.9,411.6 C369.2,412.4 370.5,413.2 371.9,413.9 C373.2,414.7 374.5,415.5 375.9,416.3 C377.2,417.0 378.6,417.8 379.9,418.5 C381.2,419.3 382.6,420.0 383.9,420.7 C385.2,421.4 386.6,422.2 387.9,422.9 C389.3,423.6 390.6,424.2 391.9,424.9 C393.3,425.6 394.6,426.3 395.9,426.9 C397.3,427.6 398.6,428.2 400.0,428.8 C401.3,429.5 402.6,430.1 404.0,430.7 C405.3,431.3 406.6,431.9 408.0,432.5 C409.3,433.1 410.7,433.6 412.0,434.2 C413.3,434.7 414.7,435.3 416.0,435.8 C417.3,436.3 418.7,436.8 420.0,437.3 C421.4,437.7 422.7,438.2 424.0,438.6 C425.4,439.1 426.7,439.5 428.0,439.9 C429.4,440.3 430.7,440.7 432.1,441.1 C433.4,441.5 434.7,441.8 436.1,442.2 C437.4,442.5 438.7,442.8 440.1,443.2 C441.4,443.5 442.8,443.8 444.1,444.0 C445.4,444.3 446.8,444.6 448.1,444.8 C449.4,445.1 450.8,445.3 452.1,445.6 C453.5,445.8 454.8,446.0 456.1,446.2 C457.5,446.5 458.8,446.7 460.1,446.9 C461.5,447.1 462.8,447.2 464.2,447.4 C465.5,447.6 466.8,447.8 468.2,448.0 C469.5,448.1 470.8,448.3 472.2,448.5 C473.5,448.6 474.9,448.8 476.2,449.0 C477.5,449.1 478.9,449.3 480.2,449.4 C481.5,449.6 482.9,449.7 484.2,449.9 C485.6,450.0 486.9,450.2 488.2,450.3 C489.6,450.4 490.9,450.6 492.2,450.7 C493.6,450.8 494.9,451.0 496.3,451.1 C497.6,451.2 498.9,451.4 500.3,451.5 C501.6,451.6 502.9,451.7 504.3,451.9 C505.6,452.0 507.0,452.1 508.3,452.2 C509.6,452.3 511.0,452.5 512.3,452.6 C513.6,452.7 515.0,452.8 516.3,452.9 C517.7,453.0 519.0,453.1 520.3,453.2 C521.7,453.3 523.0,453.4 524.3,453.5 C525.7,453.6 527.0,453.6 528.4,453.7 C529.7,453.8 531.0,453.9 532.4,453.9 C533.7,454.0 535.0,454.1 536.4,454.1 C537.7,454.2 539.1,454.3 540.4,454.3 C541.7,454.4 543.1,454.4 544.4,454.5 C545.7,454.5 547.1,454.5 548.4,454.6 C549.8,454.6 551.1,454.6 552.4,454.7 C553.8,454.7 555.1,454.7 556.4,454.7 C557.8,454.8 559.1,454.8 560.5,454.8 C561.8,454.8 563.1,454.8 564.5,454.8 C565.8,454.8 567.1,454.8 568.5,454.8 C569.8,454.8 571.2,454.8 572.5,454.8 C573.8,454.8 575.2,454.8 576.5,454.8 C577.8,454.8 579.2,454.8 580.5,454.8 C581.9,454.7 583.2,454.7 584.5,454.7 C585.9,454.7 587.2,454.7 588.5,454.7 C589.9,454.7 591.2,454.6 592.6,454.6 C593.9,454.6 595.2,454.6 596.6,454.6 C597.9,454.5 599.2,454.5 600.6,454.5 C601.9,454.5 603.3,454.5 604.6,454.5 C605.9,454.5 607.3,454.4 608.6,454.4 C609.9,454.4 611.3,454.4 612.6,454.4 C614.0,454.4 615.3,454.4 616.6,454.4 C618.0,454.4 619.3,454.4 620.6,454.4 C622.0,454.4 623.3,454.5 624.7,454.5 C626.0,454.5 627.3,454.5 628.7,454.6 C630.0,454.6 631.3,454.6 632.7,454.7 C634.0,454.7 635.4,454.8 636.7,454.9 C638.0,454.9 639.4,455.0 640.7,455.1 C642.0,455.2 643.4,455.2 644.7,455.3 C646.1,455.4 647.4,455.5 648.7,455.6 C650.1,455.7 651.4,455.8 652.7,455.9 C654.1,456.0 655.4,456.2 656.8,456.3 C658.1,456.4 659.4,456.5 660.8,456.7 C662.1,456.8 663.4,456.9 664.8,457.1 C666.1,457.2 667.5,457.4 668.8,457.5 C670.1,457.7 671.5,457.9 672.8,458.0 C674.1,458.2 675.5,458.4 676.8,458.5 C678.2,458.7 679.5,458.9 680.8,459.1 C682.2,459.2 683.5,459.4 684.8,459.6 C686.2,459.8 687.5,460.0 688.9,460.2 C690.2,460.4 691.5,460.6 692.9,460.8 C694.2,461.0 695.5,461.2 696.9,461.5 C698.2,461.7 699.6,461.9 700.9,462.1 C702.2,462.3 703.6,462.5 704.9,462.8 C706.2,463.0 707.6,463.2 708.9,463.5 C710.3,463.7 711.6,464.0 712.9,464.2 C714.3,464.5 715.6,464.7 716.9,465.0 C718.3,465.2 719.6,465.5 721.0,465.8 C722.3,466.1 723.6,466.3 725.0,466.6 C726.3,466.9 727.6,467.2 729.0,467.5 C730.3,467.8 731.7,468.2 733.0,468.5 C734.3,468.8 735.7,469.2 737.0,469.5 C738.3,469.9 739.7,470.2 741.0,470.6 C742.4,471.0 743.7,471.3 745.0,471.7 C746.4,472.1 747.7,472.5 749.0,472.9 C750.4,473.3 751.7,473.8 753.1,474.2 C754.4,474.6 755.7,475.0 757.1,475.5 C758.4,475.9 759.7,476.4 761.1,476.9 C762.4,477.3 763.8,477.8 765.1,478.3 C766.4,478.7 767.8,479.2 769.1,479.7 C770.4,480.2 771.8,480.7 773.1,481.1 C774.5,481.6 775.8,482.1 777.1,482.6 C778.5,483.0 779.8,483.5 781.1,484.0 C782.5,484.4 783.8,484.9 785.2,485.3 C786.5,485.7 787.8,486.2 789.2,486.6 C790.5,487.0 791.8,487.4 793.2,487.9 C794.5,488.3 795.9,488.7 797.2,489.1 C798.5,489.5 799.9,489.9 801.2,490.3 C802.5,490.7 803.9,491.1 805.2,491.6 C806.6,492.0 807.9,492.4 809.2,492.8 C810.6,493.2 811.9,493.6 813.2,494.0 C814.6,494.4 815.9,494.9 817.3,495.3 C818.6,495.7 819.9,496.1 821.3,496.5 C822.6,496.9 823.9,497.4 825.3,497.8 C826.6,498.2 828.0,498.6 829.3,499.0 C830.6,499.4 832.0,499.8 833.3,500.2 C834.6,500.6 836.0,501.0 837.3,501.4 C838.7,501.8 840.0,502.2 841.3,502.5 C842.7,502.9 844.0,503.3 845.3,503.6 C846.7,504.0 848.0,504.3 849.4,504.7 C850.7,505.0 852.0,505.4 853.4,505.7 C854.7,506.0 856.0,506.3 857.4,506.7 C858.7,507.0 860.1,507.3 861.4,507.6 C862.7,507.9 864.1,508.2 865.4,508.5 C866.7,508.8 868.1,509.1 869.4,509.3 C870.8,509.6 872.1,509.9 873.4,510.2 C874.8,510.4 876.1,510.7 877.4,511.0 C878.8,511.2 880.1,511.5 881.5,511.7 C882.8,512.0 884.1,512.2 885.5,512.5 C886.8,512.7 888.1,513.0 889.5,513.2 C890.8,513.5 892.2,513.7 893.5,513.9 C894.8,514.2 896.2,514.4 897.5,514.6 C898.8,514.9 900.2,515.1 901.5,515.3 C902.9,515.6 904.2,515.8 905.5,516.0 C906.9,516.2 908.2,516.5 909.5,516.7 C910.9,516.9 912.2,517.2 913.6,517.4 C914.9,517.6 916.2,517.9 917.6,518.1 C918.9,518.3 920.2,518.6 921.6,518.8 C922.9,519.0 924.3,519.3 925.6,519.5 C926.9,519.8 928.3,520.0 929.6,520.3 C930.9,520.5 932.3,520.8 933.6,521.0 C935.0,521.3 936.3,521.5 937.6,521.8 C939.0,522.0 940.3,522.3 941.6,522.5 C943.0,522.8 944.3,523.0 945.7,523.3 C947.0,523.5 948.3,523.8 949.7,524.1 C951.0,524.3 952.3,524.6 953.7,524.8 C955.0,525.1 956.4,525.4 957.7,525.6 C959.0,525.9 960.4,526.1 961.7,526.4 C963.0,526.7 964.4,526.9 965.7,527.2 C967.1,527.4 968.4,527.7 969.7,527.9 C971.1,528.2 972.4,528.4 973.7,528.7 C975.1,528.9 976.4,529.2 977.8,529.4 C979.1,529.7 980.4,529.9 981.8,530.2 C983.1,530.4 984.4,530.6 985.8,530.9 C987.1,531.1 988.5,531.3 989.8,531.6 C991.1,531.8 992.5,532.0 993.8,532.2 C995.1,532.5 996.5,532.7 997.8,532.9 C999.2,533.2 1000.5,533.4 1001.8,533.6 C1003.2,533.9 1004.5,534.1 1005.8,534.3 C1007.2,534.5 1008.5,534.8 1009.9,535.0 C1011.2,535.2 1012.5,535.5 1013.9,535.7 C1015.2,535.9 1016.5,536.2 1017.9,536.4 C1019.2,536.6 1020.6,536.9 1021.9,537.1 C1023.2,537.3 1024.6,537.6 1025.9,537.8 C1027.2,538.1 1028.6,538.3 1029.9,538.5 C1031.3,538.8 1032.6,539.0 1033.9,539.2 C1035.3,539.5 1036.6,539.7 1037.9,539.9 C1039.3,540.2 1040.6,540.4 1042.0,540.7 C1043.3,540.9 1044.6,541.1 1046.0,541.4 C1047.3,541.6 1048.6,541.8 1050.0,542.1 C1051.3,542.3 1053.3,542.7 1054.0,542.8" fill="none" stroke="#2a70ea" stroke-width="2.3"/><path d="M95.0,316.2 C95.7,316.2 97.7,316.0 99.0,316.0 C100.4,315.9 101.7,315.8 103.0,315.7 C104.4,315.7 105.7,315.6 107.0,315.5 C108.4,315.5 109.7,315.4 111.1,315.4 C112.4,315.4 113.7,315.3 115.1,315.3 C116.4,315.3 117.7,315.3 119.1,315.3 C120.4,315.4 121.8,315.4 123.1,315.5 C124.4,315.5 125.8,315.6 127.1,315.7 C128.4,315.8 129.8,315.9 131.1,316.0 C132.5,316.2 133.8,316.3 135.1,316.5 C136.5,316.7 137.8,316.9 139.1,317.1 C140.5,317.3 141.8,317.6 143.2,317.9 C144.5,318.2 145.8,318.5 147.2,318.8 C148.5,319.1 149.8,319.5 151.2,319.8 C152.5,320.2 153.9,320.6 155.2,321.0 C156.5,321.4 157.9,321.9 159.2,322.3 C160.5,322.8 161.9,323.3 163.2,323.8 C164.6,324.3 165.9,324.8 167.2,325.4 C168.6,325.9 169.9,326.5 171.2,327.0 C172.6,327.6 173.9,328.2 175.3,328.8 C176.6,329.4 177.9,330.0 179.3,330.6 C180.6,331.2 181.9,331.8 183.3,332.4 C184.6,333.0 186.0,333.7 187.3,334.3 C188.6,334.9 190.0,335.6 191.3,336.2 C192.6,336.8 194.0,337.5 195.3,338.1 C196.7,338.8 198.0,339.4 199.3,340.1 C200.7,340.7 202.0,341.4 203.3,342.1 C204.7,342.7 206.0,343.4 207.4,344.1 C208.7,344.8 210.0,345.5 211.4,346.2 C212.7,346.9 214.0,347.6 215.4,348.3 C216.7,349.0 218.1,349.8 219.4,350.5 C220.7,351.3 222.1,352.1 223.4,352.9 C224.7,353.7 226.1,354.5 227.4,355.3 C228.8,356.1 230.1,356.9 231.4,357.8 C232.8,358.6 234.1,359.5 235.4,360.4 C236.8,361.2 238.1,362.1 239.5,363.0 C240.8,363.9 242.1,364.8 243.5,365.7 C244.8,366.6 246.1,367.5 247.5,368.4 C248.8,369.3 250.2,370.3 251.5,371.2 C252.8,372.1 254.2,373.1 255.5,374.0 C256.8,375.0 258.2,375.9 259.5,376.9 C260.9,377.8 262.2,378.8 263.5,379.7 C264.9,380.7 266.2,381.7 267.5,382.6 C268.9,383.6 270.2,384.6 271.6,385.6 C272.9,386.5 274.2,387.5 275.6,388.5 C276.9,389.4 278.2,390.4 279.6,391.4 C280.9,392.3 282.3,393.3 283.6,394.2 C284.9,395.2 286.3,396.1 287.6,397.0 C288.9,397.9 290.3,398.8 291.6,399.7 C293.0,400.6 294.3,401.5 295.6,402.3 C297.0,403.2 298.3,404.0 299.6,404.8 C301.0,405.6 302.3,406.4 303.7,407.1 C305.0,407.8 306.3,408.6 307.7,409.3 C309.0,410.0 310.3,410.6 311.7,411.3 C313.0,411.9 314.4,412.5 315.7,413.2 C317.0,413.8 318.4,414.3 319.7,414.9 C321.0,415.5 322.4,416.0 323.7,416.6 C325.1,417.1 326.4,417.6 327.7,418.1 C329.1,418.6 330.4,419.1 331.7,419.5 C333.1,420.0 334.4,420.4 335.8,420.9 C337.1,421.3 338.4,421.7 339.8,422.1 C341.1,422.5 342.4,422.9 343.8,423.3 C345.1,423.7 346.5,424.0 347.8,424.4 C349.1,424.7 350.5,425.1 351.8,425.4 C353.1,425.7 354.5,426.0 355.8,426.3 C357.2,426.7 358.5,427.0 359.8,427.3 C361.2,427.6 362.5,427.9 363.8,428.2 C365.2,428.5 366.5,428.7 367.9,429.0 C369.2,429.3 370.5,429.6 371.9,429.9 C373.2,430.1 374.5,430.4 375.9,430.7 C377.2,430.9 378.6,431.2 379.9,431.5 C381.2,431.7 382.6,432.0 383.9,432.3 C385.2,432.5 386.6,432.8 387.9,433.0 C389.3,433.3 390.6,433.5 391.9,433.8 C393.3,434.1 394.6,434.3 395.9,434.6 C397.3,434.8 398.6,435.1 400.0,435.3 C401.3,435.6 402.6,435.8 404.0,436.1 C405.3,436.3 406.6,436.6 408.0,436.8 C409.3,437.1 410.7,437.3 412.0,437.6 C413.3,437.8 414.7,438.1 416.0,438.3 C417.3,438.6 418.7,438.8 420.0,439.1 C421.4,439.3 422.7,439.5 424.0,439.8 C425.4,440.0 426.7,440.3 428.0,440.5 C429.4,440.8 430.7,441.0 432.1,441.2 C433.4,441.5 434.7,441.7 436.1,441.9 C437.4,442.2 438.7,442.4 440.1,442.7 C441.4,442.9 442.8,443.1 444.1,443.4 C445.4,443.6 446.8,443.8 448.1,444.1 C449.4,444.3 450.8,444.5 452.1,444.8 C453.5,445.0 454.8,445.2 456.1,445.4 C457.5,445.7 458.8,445.9 460.1,446.1 C461.5,446.4 462.8,446.6 464.2,446.8 C465.5,447.0 466.8,447.2 468.2,447.5 C469.5,447.7 470.8,447.9 472.2,448.1 C473.5,448.3 474.9,448.5 476.2,448.7 C477.5,448.9 478.9,449.1 480.2,449.3 C481.5,449.5 482.9,449.7 484.2,449.9 C485.6,450.1 486.9,450.3 488.2,450.5 C489.6,450.7 490.9,450.8 492.2,451.0 C493.6,451.2 494.9,451.3 496.3,451.5 C497.6,451.7 498.9,451.8 500.3,452.0 C501.6,452.1 502.9,452.3 504.3,452.4 C505.6,452.5 507.0,452.7 508.3,452.8 C509.6,452.9 511.0,453.0 512.3,453.1 C513.6,453.2 515.0,453.3 516.3,453.4 C517.7,453.5 519.0,453.6 520.3,453.7 C521.7,453.8 523.0,453.8 524.3,453.9 C525.7,454.0 527.0,454.0 528.4,454.1 C529.7,454.1 531.0,454.2 532.4,454.2 C533.7,454.3 535.0,454.3 536.4,454.3 C537.7,454.4 539.1,454.4 540.4,454.4 C541.7,454.4 543.1,454.4 544.4,454.4 C545.7,454.5 547.1,454.5 548.4,454.5 C549.8,454.5 551.1,454.5 552.4,454.4 C553.8,454.4 555.1,454.4 556.4,454.4 C557.8,454.4 559.1,454.4 560.5,454.4 C561.8,454.3 563.1,454.3 564.5,454.3 C565.8,454.3 567.1,454.2 568.5,454.2 C569.8,454.2 571.2,454.1 572.5,454.1 C573.8,454.1 575.2,454.0 576.5,454.0 C577.8,453.9 579.2,453.9 580.5,453.9 C581.9,453.8 583.2,453.8 584.5,453.8 C585.9,453.7 587.2,453.7 588.5,453.7 C589.9,453.6 591.2,453.6 592.6,453.6 C593.9,453.5 595.2,453.5 596.6,453.5 C597.9,453.5 599.2,453.4 600.6,453.4 C601.9,453.4 603.3,453.4 604.6,453.4 C605.9,453.4 607.3,453.4 608.6,453.4 C609.9,453.3 611.3,453.3 612.6,453.3 C614.0,453.3 615.3,453.3 616.6,453.3 C618.0,453.4 619.3,453.4 620.6,453.4 C622.0,453.4 623.3,453.4 624.7,453.4 C626.0,453.4 627.3,453.4 628.7,453.4 C630.0,453.5 631.3,453.5 632.7,453.5 C634.0,453.5 635.4,453.5 636.7,453.6 C638.0,453.6 639.4,453.6 640.7,453.6 C642.0,453.6 643.4,453.7 644.7,453.7 C646.1,453.7 647.4,453.7 648.7,453.8 C650.1,453.8 651.4,453.8 652.7,453.8 C654.1,453.9 655.4,453.9 656.8,453.9 C658.1,453.9 659.4,454.0 660.8,454.0 C662.1,454.0 663.4,454.0 664.8,454.1 C666.1,454.1 667.5,454.1 668.8,454.1 C670.1,454.1 671.5,454.2 672.8,454.2 C674.1,454.2 675.5,454.2 676.8,454.2 C678.2,454.2 679.5,454.3 680.8,454.3 C682.2,454.3 683.5,454.3 684.8,454.3 C686.2,454.3 687.5,454.3 688.9,454.3 C690.2,454.3 691.5,454.4 692.9,454.4 C694.2,454.4 695.5,454.4 696.9,454.4 C698.2,454.4 699.6,454.3 700.9,454.3 C702.2,454.3 703.6,454.3 704.9,454.3 C706.2,454.3 707.6,454.3 708.9,454.3 C710.3,454.3 711.6,454.2 712.9,454.2 C714.3,454.2 715.6,454.2 716.9,454.2 C718.3,454.1 719.6,454.1 721.0,454.1 C722.3,454.1 723.6,454.0 725.0,454.0 C726.3,454.0 727.6,453.9 729.0,453.9 C730.3,453.9 731.7,453.8 733.0,453.8 C734.3,453.8 735.7,453.7 737.0,453.7 C738.3,453.7 739.7,453.6 741.0,453.6 C742.4,453.6 743.7,453.5 745.0,453.5 C746.4,453.4 747.7,453.4 749.0,453.4 C750.4,453.3 751.7,453.3 753.1,453.2 C754.4,453.2 755.7,453.2 757.1,453.1 C758.4,453.1 759.7,453.0 761.1,453.0 C762.4,453.0 763.8,452.9 765.1,452.9 C766.4,452.8 767.8,452.8 769.1,452.7 C770.4,452.7 771.8,452.7 773.1,452.6 C774.5,452.6 775.8,452.5 777.1,452.5 C778.5,452.4 779.8,452.4 781.1,452.3 C782.5,452.3 783.8,452.2 785.2,452.2 C786.5,452.1 787.8,452.1 789.2,452.1 C790.5,452.0 791.8,452.0 793.2,451.9 C794.5,451.9 795.9,451.8 797.2,451.8 C798.5,451.8 799.9,451.7 801.2,451.7 C802.5,451.7 803.9,451.6 805.2,451.6 C806.6,451.6 807.9,451.6 809.2,451.6 C810.6,451.5 811.9,451.5 813.2,451.5 C814.6,451.5 815.9,451.5 817.3,451.5 C818.6,451.6 819.9,451.6 821.3,451.6 C822.6,451.6 823.9,451.7 825.3,451.7 C826.6,451.7 828.0,451.8 829.3,451.8 C830.6,451.9 832.0,452.0 833.3,452.0 C834.6,452.1 836.0,452.2 837.3,452.3 C838.7,452.3 840.0,452.4 841.3,452.5 C842.7,452.6 844.0,452.7 845.3,452.8 C846.7,452.9 848.0,453.0 849.4,453.1 C850.7,453.2 852.0,453.3 853.4,453.4 C854.7,453.6 856.0,453.7 857.4,453.8 C858.7,453.9 860.1,454.1 861.4,454.2 C862.7,454.3 864.1,454.5 865.4,454.6 C866.7,454.7 868.1,454.9 869.4,455.0 C870.8,455.2 872.1,455.3 873.4,455.5 C874.8,455.6 876.1,455.8 877.4,455.9 C878.8,456.1 880.1,456.2 881.5,456.4 C882.8,456.5 884.1,456.7 885.5,456.9 C886.8,457.0 888.1,457.2 889.5,457.4 C890.8,457.5 892.2,457.7 893.5,457.9 C894.8,458.0 896.2,458.2 897.5,458.4 C898.8,458.5 900.2,458.7 901.5,458.8 C902.9,459.0 904.2,459.2 905.5,459.3 C906.9,459.5 908.2,459.7 909.5,459.8 C910.9,460.0 912.2,460.2 913.6,460.3 C914.9,460.5 916.2,460.6 917.6,460.8 C918.9,460.9 920.2,461.1 921.6,461.2 C922.9,461.4 924.3,461.5 925.6,461.7 C926.9,461.8 928.3,462.0 929.6,462.1 C930.9,462.3 932.3,462.4 933.6,462.6 C935.0,462.7 936.3,462.8 937.6,463.0 C939.0,463.1 940.3,463.3 941.6,463.4 C943.0,463.5 944.3,463.7 945.7,463.8 C947.0,464.0 948.3,464.1 949.7,464.3 C951.0,464.4 952.3,464.5 953.7,464.7 C955.0,464.8 956.4,465.0 957.7,465.1 C959.0,465.3 960.4,465.4 961.7,465.6 C963.0,465.7 964.4,465.9 965.7,466.0 C967.1,466.2 968.4,466.3 969.7,466.5 C971.1,466.6 972.4,466.8 973.7,466.9 C975.1,467.1 976.4,467.2 977.8,467.4 C979.1,467.6 980.4,467.7 981.8,467.9 C983.1,468.0 984.4,468.2 985.8,468.3 C987.1,468.5 988.5,468.7 989.8,468.8 C991.1,469.0 992.5,469.1 993.8,469.3 C995.1,469.5 996.5,469.6 997.8,469.8 C999.2,469.9 1000.5,470.1 1001.8,470.3 C1003.2,470.4 1004.5,470.6 1005.8,470.8 C1007.2,471.0 1008.5,471.1 1009.9,471.3 C1011.2,471.5 1012.5,471.7 1013.9,471.8 C1015.2,472.0 1016.5,472.2 1017.9,472.4 C1019.2,472.5 1020.6,472.7 1021.9,472.9 C1023.2,473.1 1024.6,473.3 1025.9,473.5 C1027.2,473.6 1028.6,473.8 1029.9,474.0 C1031.3,474.2 1032.6,474.4 1033.9,474.6 C1035.3,474.7 1036.6,474.9 1037.9,475.1 C1039.3,475.3 1040.6,475.5 1042.0,475.7 C1043.3,475.9 1044.6,476.1 1046.0,476.2 C1047.3,476.4 1048.6,476.6 1050.0,476.8 C1051.3,477.0 1053.3,477.3 1054.0,477.4" fill="none" stroke="#dc1f74" stroke-width="2.3"/><path d="M95.0,453.3 C95.7,453.4 97.7,453.5 99.0,453.6 C100.4,453.6 101.7,453.7 103.0,453.8 C104.4,453.8 105.7,453.9 107.0,454.0 C108.4,454.1 109.7,454.2 111.1,454.3 C112.4,454.3 113.7,454.4 115.1,454.5 C116.4,454.6 117.7,454.7 119.1,454.8 C120.4,454.9 121.8,455.1 123.1,455.2 C124.4,455.3 125.8,455.4 127.1,455.6 C128.4,455.7 129.8,455.9 131.1,456.0 C132.5,456.2 133.8,456.3 135.1,456.5 C136.5,456.7 137.8,456.8 139.1,457.0 C140.5,457.2 141.8,457.4 143.2,457.6 C144.5,457.8 145.8,458.0 147.2,458.2 C148.5,458.4 149.8,458.7 151.2,458.9 C152.5,459.1 153.9,459.4 155.2,459.6 C156.5,459.9 157.9,460.1 159.2,460.4 C160.5,460.7 161.9,460.9 163.2,461.2 C164.6,461.5 165.9,461.8 167.2,462.1 C168.6,462.3 169.9,462.6 171.2,462.9 C172.6,463.2 173.9,463.5 175.3,463.8 C176.6,464.1 177.9,464.4 179.3,464.7 C180.6,465.0 181.9,465.3 183.3,465.6 C184.6,465.9 186.0,466.2 187.3,466.5 C188.6,466.8 190.0,467.2 191.3,467.5 C192.6,467.8 194.0,468.1 195.3,468.5 C196.7,468.8 198.0,469.1 199.3,469.5 C200.7,469.8 202.0,470.2 203.3,470.5 C204.7,470.9 206.0,471.2 207.4,471.6 C208.7,472.0 210.0,472.3 211.4,472.7 C212.7,473.1 214.0,473.5 215.4,473.8 C216.7,474.2 218.1,474.6 219.4,475.0 C220.7,475.4 222.1,475.8 223.4,476.2 C224.7,476.6 226.1,477.0 227.4,477.4 C228.8,477.8 230.1,478.2 231.4,478.7 C232.8,479.1 234.1,479.5 235.4,479.9 C236.8,480.4 238.1,480.8 239.5,481.2 C240.8,481.7 242.1,482.1 243.5,482.6 C244.8,483.1 246.1,483.5 247.5,484.0 C248.8,484.5 250.2,484.9 251.5,485.4 C252.8,485.9 254.2,486.4 255.5,486.9 C256.8,487.4 258.2,487.9 259.5,488.4 C260.9,488.9 262.2,489.4 263.5,489.9 C264.9,490.3 266.2,490.8 267.5,491.3 C268.9,491.8 270.2,492.3 271.6,492.8 C272.9,493.3 274.2,493.8 275.6,494.3 C276.9,494.8 278.2,495.3 279.6,495.8 C280.9,496.3 282.3,496.7 283.6,497.2 C284.9,497.7 286.3,498.1 287.6,498.6 C288.9,499.0 290.3,499.4 291.6,499.9 C293.0,500.3 294.3,500.7 295.6,501.1 C297.0,501.5 298.3,501.9 299.6,502.3 C301.0,502.6 302.3,503.0 303.7,503.3 C305.0,503.7 306.3,504.0 307.7,504.3 C309.0,504.7 310.3,505.0 311.7,505.3 C313.0,505.6 314.4,505.8 315.7,506.1 C317.0,506.4 318.4,506.6 319.7,506.9 C321.0,507.1 322.4,507.3 323.7,507.6 C325.1,507.8 326.4,508.0 327.7,508.2 C329.1,508.4 330.4,508.6 331.7,508.8 C333.1,509.0 334.4,509.2 335.8,509.3 C337.1,509.5 338.4,509.7 339.8,509.9 C341.1,510.0 342.4,510.2 343.8,510.3 C345.1,510.5 346.5,510.6 347.8,510.8 C349.1,510.9 350.5,511.1 351.8,511.2 C353.1,511.3 354.5,511.5 355.8,511.6 C357.2,511.7 358.5,511.8 359.8,512.0 C361.2,512.1 362.5,512.2 363.8,512.3 C365.2,512.4 366.5,512.5 367.9,512.6 C369.2,512.7 370.5,512.8 371.9,512.8 C373.2,512.9 374.5,513.0 375.9,513.1 C377.2,513.2 378.6,513.2 379.9,513.3 C381.2,513.4 382.6,513.4 383.9,513.5 C385.2,513.5 386.6,513.6 387.9,513.6 C389.3,513.7 390.6,513.7 391.9,513.8 C393.3,513.8 394.6,513.8 395.9,513.9 C397.3,513.9 398.6,514.0 400.0,514.0 C401.3,514.0 402.6,514.1 404.0,514.1 C405.3,514.1 406.6,514.1 408.0,514.2 C409.3,514.2 410.7,514.2 412.0,514.2 C413.3,514.2 414.7,514.2 416.0,514.3 C417.3,514.3 418.7,514.3 420.0,514.3 C421.4,514.3 422.7,514.3 424.0,514.3 C425.4,514.3 426.7,514.3 428.0,514.3 C429.4,514.3 430.7,514.2 432.1,514.2 C433.4,514.2 434.7,514.2 436.1,514.1 C437.4,514.1 438.7,514.1 440.1,514.0 C441.4,514.0 442.8,513.9 444.1,513.9 C445.4,513.8 446.8,513.7 448.1,513.6 C449.4,513.6 450.8,513.5 452.1,513.4 C453.5,513.3 454.8,513.1 456.1,513.0 C457.5,512.9 458.8,512.8 460.1,512.7 C461.5,512.5 462.8,512.4 464.2,512.2 C465.5,512.1 466.8,512.0 468.2,511.8 C469.5,511.7 470.8,511.5 472.2,511.3 C473.5,511.2 474.9,511.0 476.2,510.9 C477.5,510.7 478.9,510.5 480.2,510.4 C481.5,510.2 482.9,510.0 484.2,509.9 C485.6,509.7 486.9,509.5 488.2,509.4 C489.6,509.2 490.9,509.0 492.2,508.8 C493.6,508.7 494.9,508.5 496.3,508.3 C497.6,508.1 498.9,507.9 500.3,507.7 C501.6,507.6 502.9,507.4 504.3,507.2 C505.6,507.0 507.0,506.8 508.3,506.5 C509.6,506.3 511.0,506.1 512.3,505.9 C513.6,505.7 515.0,505.4 516.3,505.2 C517.7,505.0 519.0,504.7 520.3,504.5 C521.7,504.2 523.0,503.9 524.3,503.7 C525.7,503.4 527.0,503.1 528.4,502.8 C529.7,502.5 531.0,502.2 532.4,502.0 C533.7,501.7 535.0,501.4 536.4,501.0 C537.7,500.7 539.1,500.4 540.4,500.1 C541.7,499.8 543.1,499.5 544.4,499.2 C545.7,498.8 547.1,498.5 548.4,498.2 C549.8,497.9 551.1,497.6 552.4,497.2 C553.8,496.9 555.1,496.6 556.4,496.3 C557.8,496.0 559.1,495.6 560.5,495.3 C561.8,495.0 563.1,494.7 564.5,494.4 C565.8,494.1 567.1,493.8 568.5,493.5 C569.8,493.2 571.2,492.9 572.5,492.6 C573.8,492.3 575.2,492.0 576.5,491.7 C577.8,491.5 579.2,491.2 580.5,490.9 C581.9,490.7 583.2,490.4 584.5,490.2 C585.9,489.9 587.2,489.7 588.5,489.4 C589.9,489.2 591.2,489.0 592.6,488.8 C593.9,488.6 595.2,488.4 596.6,488.2 C597.9,488.0 599.2,487.8 600.6,487.7 C601.9,487.5 603.3,487.4 604.6,487.2 C605.9,487.1 607.3,487.0 608.6,486.9 C609.9,486.7 611.3,486.6 612.6,486.6 C614.0,486.5 615.3,486.4 616.6,486.3 C618.0,486.3 619.3,486.2 620.6,486.2 C622.0,486.1 623.3,486.1 624.7,486.1 C626.0,486.1 627.3,486.1 628.7,486.1 C630.0,486.1 631.3,486.1 632.7,486.1 C634.0,486.1 635.4,486.2 636.7,486.2 C638.0,486.3 639.4,486.4 640.7,486.4 C642.0,486.5 643.4,486.6 644.7,486.7 C646.1,486.8 647.4,486.9 648.7,487.1 C650.1,487.2 651.4,487.3 652.7,487.5 C654.1,487.6 655.4,487.8 656.8,488.0 C658.1,488.2 659.4,488.3 660.8,488.5 C662.1,488.7 663.4,488.9 664.8,489.2 C666.1,489.4 667.5,489.6 668.8,489.8 C670.1,490.1 671.5,490.3 672.8,490.6 C674.1,490.8 675.5,491.1 676.8,491.3 C678.2,491.6 679.5,491.8 680.8,492.1 C682.2,492.4 683.5,492.7 684.8,492.9 C686.2,493.2 687.5,493.5 688.9,493.8 C690.2,494.0 691.5,494.3 692.9,494.6 C694.2,494.8 695.5,495.1 696.9,495.4 C698.2,495.6 699.6,495.9 700.9,496.1 C702.2,496.3 703.6,496.6 704.9,496.8 C706.2,497.0 707.6,497.2 708.9,497.4 C710.3,497.6 711.6,497.8 712.9,498.0 C714.3,498.1 715.6,498.3 716.9,498.4 C718.3,498.6 719.6,498.7 721.0,498.9 C722.3,499.0 723.6,499.1 725.0,499.2 C726.3,499.3 727.6,499.4 729.0,499.5 C730.3,499.6 731.7,499.7 733.0,499.7 C734.3,499.8 735.7,499.9 737.0,499.9 C738.3,499.9 739.7,500.0 741.0,500.0 C742.4,500.0 743.7,500.0 745.0,500.0 C746.4,500.0 747.7,500.0 749.0,499.9 C750.4,499.9 751.7,499.9 753.1,499.9 C754.4,499.8 755.7,499.8 757.1,499.7 C758.4,499.7 759.7,499.7 761.1,499.6 C762.4,499.5 763.8,499.5 765.1,499.4 C766.4,499.4 767.8,499.3 769.1,499.2 C770.4,499.1 771.8,499.1 773.1,499.0 C774.5,498.9 775.8,498.8 777.1,498.7 C778.5,498.6 779.8,498.5 781.1,498.4 C782.5,498.3 783.8,498.2 785.2,498.1 C786.5,497.9 787.8,497.8 789.2,497.7 C790.5,497.5 791.8,497.4 793.2,497.3 C794.5,497.1 795.9,497.0 797.2,496.8 C798.5,496.7 799.9,496.5 801.2,496.4 C802.5,496.2 803.9,496.1 805.2,495.9 C806.6,495.8 807.9,495.6 809.2,495.5 C810.6,495.3 811.9,495.2 813.2,495.0 C814.6,494.9 815.9,494.7 817.3,494.6 C818.6,494.4 819.9,494.3 821.3,494.1 C822.6,493.9 823.9,493.8 825.3,493.6 C826.6,493.4 828.0,493.2 829.3,493.0 C830.6,492.9 832.0,492.7 833.3,492.4 C834.6,492.2 836.0,492.0 837.3,491.8 C838.7,491.6 840.0,491.3 841.3,491.0 C842.7,490.8 844.0,490.5 845.3,490.2 C846.7,489.9 848.0,489.6 849.4,489.3 C850.7,489.0 852.0,488.7 853.4,488.4 C854.7,488.1 856.0,487.7 857.4,487.4 C858.7,487.1 860.1,486.7 861.4,486.4 C862.7,486.0 864.1,485.7 865.4,485.3 C866.7,485.0 868.1,484.7 869.4,484.3 C870.8,484.0 872.1,483.6 873.4,483.3 C874.8,482.9 876.1,482.6 877.4,482.3 C878.8,482.0 880.1,481.6 881.5,481.3 C882.8,481.0 884.1,480.7 885.5,480.4 C886.8,480.1 888.1,479.8 889.5,479.5 C890.8,479.3 892.2,479.0 893.5,478.8 C894.8,478.5 896.2,478.3 897.5,478.0 C898.8,477.8 900.2,477.6 901.5,477.4 C902.9,477.2 904.2,477.0 905.5,476.8 C906.9,476.6 908.2,476.5 909.5,476.3 C910.9,476.2 912.2,476.1 913.6,476.0 C914.9,475.9 916.2,475.8 917.6,475.7 C918.9,475.6 920.2,475.6 921.6,475.5 C922.9,475.5 924.3,475.5 925.6,475.5 C926.9,475.5 928.3,475.5 929.6,475.5 C930.9,475.6 932.3,475.6 933.6,475.7 C935.0,475.8 936.3,475.9 937.6,476.0 C939.0,476.1 940.3,476.2 941.6,476.4 C943.0,476.5 944.3,476.7 945.7,476.9 C947.0,477.0 948.3,477.2 949.7,477.5 C951.0,477.7 952.3,477.9 953.7,478.2 C955.0,478.4 956.4,478.7 957.7,479.0 C959.0,479.3 960.4,479.6 961.7,480.0 C963.0,480.3 964.4,480.6 965.7,481.0 C967.1,481.4 968.4,481.8 969.7,482.2 C971.1,482.6 972.4,483.0 973.7,483.5 C975.1,484.0 976.4,484.4 977.8,484.9 C979.1,485.4 980.4,486.0 981.8,486.5 C983.1,487.1 984.4,487.6 985.8,488.2 C987.1,488.8 988.5,489.4 989.8,490.0 C991.1,490.6 992.5,491.2 993.8,491.9 C995.1,492.5 996.5,493.1 997.8,493.8 C999.2,494.4 1000.5,495.1 1001.8,495.8 C1003.2,496.4 1004.5,497.1 1005.8,497.7 C1007.2,498.4 1008.5,499.1 1009.9,499.8 C1011.2,500.4 1012.5,501.1 1013.9,501.8 C1015.2,502.5 1016.5,503.2 1017.9,503.9 C1019.2,504.5 1020.6,505.2 1021.9,505.9 C1023.2,506.6 1024.6,507.3 1025.9,508.1 C1027.2,508.8 1028.6,509.5 1029.9,510.2 C1031.3,510.9 1032.6,511.6 1033.9,512.4 C1035.3,513.1 1036.6,513.8 1037.9,514.6 C1039.3,515.3 1040.6,516.0 1042.0,516.8 C1043.3,517.5 1044.6,518.3 1046.0,519.0 C1047.3,519.7 1048.6,520.5 1050.0,521.2 C1051.3,522.0 1053.3,523.1 1054.0,523.5" fill="none" stroke="#a64ee6" stroke-width="2.3"/><path d="M95.0,576.5 C95.7,576.6 97.7,576.7 99.0,576.8 C100.4,576.9 101.7,577.0 103.0,577.1 C104.4,577.1 105.7,577.2 107.0,577.3 C108.4,577.4 109.7,577.5 111.1,577.6 C112.4,577.7 113.7,577.8 115.1,577.9 C116.4,578.0 117.7,578.1 119.1,578.2 C120.4,578.3 121.8,578.4 123.1,578.6 C124.4,578.7 125.8,578.8 127.1,578.9 C128.4,579.0 129.8,579.2 131.1,579.3 C132.5,579.4 133.8,579.5 135.1,579.6 C136.5,579.8 137.8,579.9 139.1,580.0 C140.5,580.1 141.8,580.3 143.2,580.4 C144.5,580.5 145.8,580.6 147.2,580.7 C148.5,580.9 149.8,581.0 151.2,581.1 C152.5,581.2 153.9,581.3 155.2,581.4 C156.5,581.5 157.9,581.6 159.2,581.7 C160.5,581.8 161.9,581.9 163.2,581.9 C164.6,582.0 165.9,582.1 167.2,582.1 C168.6,582.2 169.9,582.2 171.2,582.3 C172.6,582.3 173.9,582.3 175.3,582.3 C176.6,582.4 177.9,582.4 179.3,582.3 C180.6,582.3 181.9,582.3 183.3,582.3 C184.6,582.2 186.0,582.2 187.3,582.1 C188.6,582.0 190.0,581.9 191.3,581.8 C192.6,581.7 194.0,581.6 195.3,581.5 C196.7,581.3 198.0,581.2 199.3,581.0 C200.7,580.8 202.0,580.6 203.3,580.4 C204.7,580.2 206.0,580.0 207.4,579.7 C208.7,579.5 210.0,579.2 211.4,578.9 C212.7,578.6 214.0,578.3 215.4,577.9 C216.7,577.6 218.1,577.2 219.4,576.8 C220.7,576.5 222.1,576.0 223.4,575.6 C224.7,575.2 226.1,574.7 227.4,574.2 C228.8,573.7 230.1,573.2 231.4,572.7 C232.8,572.1 234.1,571.5 235.4,571.0 C236.8,570.4 238.1,569.8 239.5,569.1 C240.8,568.5 242.1,567.8 243.5,567.2 C244.8,566.5 246.1,565.8 247.5,565.1 C248.8,564.4 250.2,563.6 251.5,562.9 C252.8,562.1 254.2,561.3 255.5,560.5 C256.8,559.8 258.2,558.9 259.5,558.1 C260.9,557.3 262.2,556.5 263.5,555.6 C264.9,554.8 266.2,553.9 267.5,553.1 C268.9,552.3 270.2,551.4 271.6,550.6 C272.9,549.7 274.2,548.9 275.6,548.0 C276.9,547.2 278.2,546.4 279.6,545.6 C280.9,544.8 282.3,544.0 283.6,543.2 C284.9,542.4 286.3,541.7 287.6,541.0 C288.9,540.2 290.3,539.5 291.6,538.9 C293.0,538.2 294.3,537.6 295.6,537.0 C297.0,536.4 298.3,535.8 299.6,535.3 C301.0,534.7 302.3,534.2 303.7,533.8 C305.0,533.3 306.3,532.9 307.7,532.5 C309.0,532.1 310.3,531.7 311.7,531.4 C313.0,531.1 314.4,530.8 315.7,530.6 C317.0,530.3 318.4,530.1 319.7,530.0 C321.0,529.8 322.4,529.7 323.7,529.6 C325.1,529.4 326.4,529.4 327.7,529.3 C329.1,529.3 330.4,529.3 331.7,529.3 C333.1,529.3 334.4,529.3 335.8,529.4 C337.1,529.4 338.4,529.5 339.8,529.6 C341.1,529.7 342.4,529.8 343.8,529.9 C345.1,530.1 346.5,530.2 347.8,530.4 C349.1,530.5 350.5,530.7 351.8,530.9 C353.1,531.1 354.5,531.2 355.8,531.4 C357.2,531.6 358.5,531.8 359.8,532.0 C361.2,532.2 362.5,532.4 363.8,532.6 C365.2,532.8 366.5,533.0 367.9,533.2 C369.2,533.4 370.5,533.6 371.9,533.8 C373.2,534.0 374.5,534.2 375.9,534.4 C377.2,534.5 378.6,534.7 379.9,534.9 C381.2,535.1 382.6,535.2 383.9,535.4 C385.2,535.6 386.6,535.7 387.9,535.8 C389.3,536.0 390.6,536.1 391.9,536.2 C393.3,536.3 394.6,536.4 395.9,536.5 C397.3,536.6 398.6,536.7 400.0,536.7 C401.3,536.7 402.6,536.8 404.0,536.8 C405.3,536.8 406.6,536.8 408.0,536.7 C409.3,536.7 410.7,536.6 412.0,536.5 C413.3,536.5 414.7,536.4 416.0,536.2 C417.3,536.1 418.7,535.9 420.0,535.8 C421.4,535.6 422.7,535.4 424.0,535.2 C425.4,535.0 426.7,534.8 428.0,534.6 C429.4,534.3 430.7,534.1 432.1,533.8 C433.4,533.6 434.7,533.3 436.1,533.0 C437.4,532.7 438.7,532.4 440.1,532.0 C441.4,531.7 442.8,531.4 444.1,531.0 C445.4,530.7 446.8,530.3 448.1,530.0 C449.4,529.6 450.8,529.2 452.1,528.8 C453.5,528.5 454.8,528.1 456.1,527.7 C457.5,527.3 458.8,526.8 460.1,526.4 C461.5,526.0 462.8,525.6 464.2,525.2 C465.5,524.7 466.8,524.3 468.2,523.8 C469.5,523.4 470.8,523.0 472.2,522.5 C473.5,522.1 474.9,521.6 476.2,521.2 C477.5,520.7 478.9,520.3 480.2,519.9 C481.5,519.4 482.9,519.0 484.2,518.5 C485.6,518.1 486.9,517.6 488.2,517.2 C489.6,516.7 490.9,516.3 492.2,515.9 C493.6,515.4 494.9,515.0 496.3,514.5 C497.6,514.1 498.9,513.7 500.3,513.2 C501.6,512.8 502.9,512.3 504.3,511.9 C505.6,511.5 507.0,511.0 508.3,510.6 C509.6,510.1 511.0,509.7 512.3,509.2 C513.6,508.8 515.0,508.4 516.3,507.9 C517.7,507.5 519.0,507.0 520.3,506.6 C521.7,506.1 523.0,505.7 524.3,505.2 C525.7,504.8 527.0,504.3 528.4,503.9 C529.7,503.5 531.0,503.0 532.4,502.6 C533.7,502.1 535.0,501.7 536.4,501.2 C537.7,500.8 539.1,500.3 540.4,499.9 C541.7,499.4 543.1,499.0 544.4,498.5 C545.7,498.1 547.1,497.6 548.4,497.2 C549.8,496.7 551.1,496.3 552.4,495.8 C553.8,495.4 555.1,494.9 556.4,494.5 C557.8,494.0 559.1,493.6 560.5,493.1 C561.8,492.7 563.1,492.2 564.5,491.8 C565.8,491.3 567.1,490.9 568.5,490.5 C569.8,490.0 571.2,489.6 572.5,489.2 C573.8,488.7 575.2,488.3 576.5,487.9 C577.8,487.5 579.2,487.1 580.5,486.7 C581.9,486.3 583.2,485.9 584.5,485.5 C585.9,485.2 587.2,484.8 588.5,484.5 C589.9,484.1 591.2,483.8 592.6,483.5 C593.9,483.1 595.2,482.8 596.6,482.5 C597.9,482.3 599.2,482.0 600.6,481.7 C601.9,481.5 603.3,481.3 604.6,481.0 C605.9,480.8 607.3,480.6 608.6,480.5 C609.9,480.3 611.3,480.1 612.6,480.0 C614.0,479.8 615.3,479.7 616.6,479.6 C618.0,479.5 619.3,479.4 620.6,479.3 C622.0,479.2 623.3,479.2 624.7,479.1 C626.0,479.0 627.3,479.0 628.7,479.0 C630.0,479.0 631.3,479.0 632.7,479.0 C634.0,479.0 635.4,479.0 636.7,479.0 C638.0,479.0 639.4,479.1 640.7,479.1 C642.0,479.2 643.4,479.3 644.7,479.4 C646.1,479.5 647.4,479.6 648.7,479.7 C650.1,479.8 651.4,479.9 652.7,480.1 C654.1,480.2 655.4,480.4 656.8,480.5 C658.1,480.7 659.4,480.9 660.8,481.1 C662.1,481.3 663.4,481.5 664.8,481.7 C666.1,481.9 667.5,482.2 668.8,482.4 C670.1,482.6 671.5,482.9 672.8,483.2 C674.1,483.4 675.5,483.7 676.8,484.0 C678.2,484.3 679.5,484.6 680.8,484.9 C682.2,485.2 683.5,485.5 684.8,485.8 C686.2,486.1 687.5,486.5 688.9,486.8 C690.2,487.2 691.5,487.5 692.9,487.9 C694.2,488.2 695.5,488.6 696.9,488.9 C698.2,489.3 699.6,489.7 700.9,490.1 C702.2,490.5 703.6,490.9 704.9,491.2 C706.2,491.6 707.6,492.0 708.9,492.4 C710.3,492.9 711.6,493.3 712.9,493.7 C714.3,494.1 715.6,494.5 716.9,494.9 C718.3,495.4 719.6,495.8 721.0,496.2 C722.3,496.6 723.6,497.1 725.0,497.5 C726.3,497.9 727.6,498.4 729.0,498.8 C730.3,499.2 731.7,499.7 733.0,500.1 C734.3,500.6 735.7,501.0 737.0,501.4 C738.3,501.9 739.7,502.3 741.0,502.7 C742.4,503.2 743.7,503.6 745.0,504.0 C746.4,504.5 747.7,504.9 749.0,505.3 C750.4,505.8 751.7,506.2 753.1,506.6 C754.4,507.1 755.7,507.5 757.1,507.9 C758.4,508.3 759.7,508.8 761.1,509.2 C762.4,509.6 763.8,510.0 765.1,510.5 C766.4,510.9 767.8,511.3 769.1,511.7 C770.4,512.1 771.8,512.6 773.1,513.0 C774.5,513.4 775.8,513.9 777.1,514.3 C778.5,514.8 779.8,515.2 781.1,515.7 C782.5,516.1 783.8,516.6 785.2,517.1 C786.5,517.6 787.8,518.1 789.2,518.6 C790.5,519.1 791.8,519.6 793.2,520.1 C794.5,520.7 795.9,521.2 797.2,521.8 C798.5,522.4 799.9,522.9 801.2,523.6 C802.5,524.2 803.9,524.8 805.2,525.5 C806.6,526.1 807.9,526.8 809.2,527.5 C810.6,528.2 811.9,528.9 813.2,529.7 C814.6,530.4 815.9,531.2 817.3,532.0 C818.6,532.8 819.9,533.7 821.3,534.5 C822.6,535.4 823.9,536.3 825.3,537.2 C826.6,538.1 828.0,539.0 829.3,540.0 C830.6,541.0 832.0,542.0 833.3,543.0 C834.6,544.0 836.0,545.1 837.3,546.1 C838.7,547.2 840.0,548.3 841.3,549.4 C842.7,550.6 844.0,551.7 845.3,552.9 C846.7,554.1 848.0,555.3 849.4,556.5 C850.7,557.7 852.0,558.9 853.4,560.1 C854.7,561.3 856.0,562.5 857.4,563.7 C858.7,564.9 860.1,566.2 861.4,567.3 C862.7,568.5 864.1,569.7 865.4,570.9 C866.7,572.1 868.1,573.2 869.4,574.4 C870.8,575.5 872.1,576.7 873.4,577.8 C874.8,578.9 876.1,580.0 877.4,581.2 C878.8,582.3 880.1,583.4 881.5,584.4 C882.8,585.5 884.1,586.6 885.5,587.6 C886.8,588.7 888.1,589.7 889.5,590.8 C890.8,591.8 892.2,592.8 893.5,593.8 C894.8,594.8 896.2,595.8 897.5,596.7 C898.8,597.7 900.2,598.6 901.5,599.5 C902.9,600.4 904.2,601.3 905.5,602.2 C906.9,603.1 908.2,603.9 909.5,604.7 C910.9,605.5 912.2,606.3 913.6,607.1 C914.9,607.9 916.2,608.6 917.6,609.3 C918.9,610.0 920.2,610.7 921.6,611.4 C922.9,612.0 924.3,612.7 925.6,613.3 C926.9,613.9 928.3,614.4 929.6,615.0 C930.9,615.5 932.3,616.0 933.6,616.5 C935.0,617.0 936.3,617.5 937.6,617.9 C939.0,618.4 940.3,618.8 941.6,619.2 C943.0,619.6 944.3,620.0 945.7,620.3 C947.0,620.7 948.3,621.0 949.7,621.3 C951.0,621.7 952.3,621.9 953.7,622.2 C955.0,622.5 956.4,622.8 957.7,623.0 C959.0,623.2 960.4,623.5 961.7,623.7 C963.0,623.9 964.4,624.1 965.7,624.3 C967.1,624.4 968.4,624.6 969.7,624.8 C971.1,624.9 972.4,625.1 973.7,625.2 C975.1,625.3 976.4,625.5 977.8,625.6 C979.1,625.7 980.4,625.8 981.8,625.9 C983.1,626.0 984.4,626.1 985.8,626.2 C987.1,626.3 988.5,626.4 989.8,626.5 C991.1,626.5 992.5,626.6 993.8,626.7 C995.1,626.7 996.5,626.8 997.8,626.8 C999.2,626.9 1000.5,626.9 1001.8,626.9 C1003.2,627.0 1004.5,627.0 1005.8,627.0 C1007.2,627.0 1008.5,627.0 1009.9,627.0 C1011.2,627.0 1012.5,627.0 1013.9,626.9 C1015.2,626.9 1016.5,626.9 1017.9,626.8 C1019.2,626.8 1020.6,626.8 1021.9,626.7 C1023.2,626.7 1024.6,626.6 1025.9,626.5 C1027.2,626.5 1028.6,626.4 1029.9,626.3 C1031.3,626.3 1032.6,626.2 1033.9,626.1 C1035.3,626.0 1036.6,625.9 1037.9,625.8 C1039.3,625.8 1040.6,625.7 1042.0,625.6 C1043.3,625.5 1044.6,625.4 1046.0,625.3 C1047.3,625.2 1048.6,625.0 1050.0,624.9 C1051.3,624.8 1053.3,624.7 1054.0,624.6" fill="none" stroke="#eb9a48" stroke-width="2.3"/><path d="M95.0,534.2 C95.7,534.2 97.7,534.2 99.0,534.2 C100.4,534.2 101.7,534.2 103.0,534.2 C104.4,534.3 105.7,534.3 107.0,534.3 C108.4,534.3 109.7,534.3 111.1,534.4 C112.4,534.4 113.7,534.5 115.1,534.5 C116.4,534.6 117.7,534.7 119.1,534.7 C120.4,534.8 121.8,534.9 123.1,535.0 C124.4,535.1 125.8,535.3 127.1,535.4 C128.4,535.5 129.8,535.7 131.1,535.8 C132.5,536.0 133.8,536.2 135.1,536.4 C136.5,536.6 137.8,536.8 139.1,537.0 C140.5,537.2 141.8,537.4 143.2,537.7 C144.5,537.9 145.8,538.2 147.2,538.4 C148.5,538.7 149.8,539.0 151.2,539.3 C152.5,539.6 153.9,539.9 155.2,540.2 C156.5,540.5 157.9,540.9 159.2,541.2 C160.5,541.6 161.9,541.9 163.2,542.2 C164.6,542.6 165.9,542.9 167.2,543.3 C168.6,543.6 169.9,544.0 171.2,544.3 C172.6,544.7 173.9,545.0 175.3,545.4 C176.6,545.7 177.9,546.1 179.3,546.4 C180.6,546.7 181.9,547.0 183.3,547.3 C184.6,547.6 186.0,547.9 187.3,548.2 C188.6,548.5 190.0,548.8 191.3,549.1 C192.6,549.3 194.0,549.6 195.3,549.8 C196.7,550.1 198.0,550.3 199.3,550.5 C200.7,550.7 202.0,550.9 203.3,551.1 C204.7,551.2 206.0,551.4 207.4,551.5 C208.7,551.7 210.0,551.8 211.4,551.9 C212.7,552.0 214.0,552.1 215.4,552.1 C216.7,552.2 218.1,552.3 219.4,552.3 C220.7,552.3 222.1,552.3 223.4,552.3 C224.7,552.3 226.1,552.3 227.4,552.3 C228.8,552.2 230.1,552.2 231.4,552.1 C232.8,552.0 234.1,551.9 235.4,551.8 C236.8,551.7 238.1,551.6 239.5,551.4 C240.8,551.3 242.1,551.2 243.5,551.0 C244.8,550.8 246.1,550.7 247.5,550.5 C248.8,550.3 250.2,550.1 251.5,549.9 C252.8,549.7 254.2,549.5 255.5,549.3 C256.8,549.0 258.2,548.8 259.5,548.6 C260.9,548.3 262.2,548.1 263.5,547.9 C264.9,547.6 266.2,547.4 267.5,547.1 C268.9,546.9 270.2,546.6 271.6,546.4 C272.9,546.1 274.2,545.9 275.6,545.6 C276.9,545.4 278.2,545.1 279.6,544.9 C280.9,544.6 282.3,544.4 283.6,544.2 C284.9,543.9 286.3,543.7 287.6,543.5 C288.9,543.3 290.3,543.1 291.6,542.9 C293.0,542.7 294.3,542.5 295.6,542.3 C297.0,542.1 298.3,541.9 299.6,541.8 C301.0,541.6 302.3,541.4 303.7,541.3 C305.0,541.1 306.3,541.0 307.7,540.9 C309.0,540.8 310.3,540.6 311.7,540.5 C313.0,540.4 314.4,540.3 315.7,540.2 C317.0,540.1 318.4,540.1 319.7,540.0 C321.0,539.9 322.4,539.8 323.7,539.8 C325.1,539.7 326.4,539.7 327.7,539.6 C329.1,539.6 330.4,539.5 331.7,539.5 C333.1,539.5 334.4,539.4 335.8,539.4 C337.1,539.4 338.4,539.3 339.8,539.3 C341.1,539.3 342.4,539.3 343.8,539.3 C345.1,539.3 346.5,539.2 347.8,539.2 C349.1,539.2 350.5,539.2 351.8,539.2 C353.1,539.2 354.5,539.1 355.8,539.1 C357.2,539.1 358.5,539.1 359.8,539.0 C361.2,539.0 362.5,539.0 363.8,538.9 C365.2,538.9 366.5,538.9 367.9,538.8 C369.2,538.7 370.5,538.7 371.9,538.6 C373.2,538.5 374.5,538.4 375.9,538.3 C377.2,538.2 378.6,538.1 379.9,538.0 C381.2,537.9 382.6,537.8 383.9,537.6 C385.2,537.5 386.6,537.3 387.9,537.2 C389.3,537.0 390.6,536.8 391.9,536.6 C393.3,536.4 394.6,536.2 395.9,536.0 C397.3,535.8 398.6,535.5 400.0,535.3 C401.3,535.0 402.6,534.7 404.0,534.4 C405.3,534.2 406.6,533.8 408.0,533.5 C409.3,533.2 410.7,532.9 412.0,532.5 C413.3,532.2 414.7,531.8 416.0,531.4 C417.3,531.1 418.7,530.7 420.0,530.3 C421.4,529.9 422.7,529.4 424.0,529.0 C425.4,528.6 426.7,528.1 428.0,527.7 C429.4,527.2 430.7,526.8 432.1,526.3 C433.4,525.8 434.7,525.3 436.1,524.8 C437.4,524.2 438.7,523.7 440.1,523.1 C441.4,522.6 442.8,522.0 444.1,521.4 C445.4,520.8 446.8,520.2 448.1,519.6 C449.4,518.9 450.8,518.3 452.1,517.6 C453.5,516.9 454.8,516.3 456.1,515.5 C457.5,514.8 458.8,514.1 460.1,513.4 C461.5,512.6 462.8,511.9 464.2,511.1 C465.5,510.4 466.8,509.6 468.2,508.8 C469.5,508.1 470.8,507.3 472.2,506.5 C473.5,505.7 474.9,505.0 476.2,504.2 C477.5,503.4 478.9,502.6 480.2,501.9 C481.5,501.1 482.9,500.3 484.2,499.6 C485.6,498.8 486.9,498.0 488.2,497.3 C489.6,496.6 490.9,495.8 492.2,495.1 C493.6,494.4 494.9,493.7 496.3,493.0 C497.6,492.3 498.9,491.6 500.3,490.9 C501.6,490.2 502.9,489.6 504.3,488.9 C505.6,488.3 507.0,487.7 508.3,487.0 C509.6,486.4 511.0,485.8 512.3,485.3 C513.6,484.7 515.0,484.1 516.3,483.6 C517.7,483.0 519.0,482.5 520.3,481.9 C521.7,481.4 523.0,480.9 524.3,480.4 C525.7,479.9 527.0,479.4 528.4,478.9 C529.7,478.5 531.0,478.0 532.4,477.6 C533.7,477.1 535.0,476.7 536.4,476.2 C537.7,475.8 539.1,475.4 540.4,474.9 C541.7,474.5 543.1,474.1 544.4,473.7 C545.7,473.3 547.1,472.9 548.4,472.5 C549.8,472.1 551.1,471.7 552.4,471.3 C553.8,470.9 555.1,470.5 556.4,470.1 C557.8,469.8 559.1,469.4 560.5,469.0 C561.8,468.6 563.1,468.2 564.5,467.8 C565.8,467.4 567.1,467.0 568.5,466.7 C569.8,466.3 571.2,465.9 572.5,465.5 C573.8,465.1 575.2,464.8 576.5,464.4 C577.8,464.0 579.2,463.7 580.5,463.3 C581.9,462.9 583.2,462.6 584.5,462.3 C585.9,461.9 587.2,461.6 588.5,461.2 C589.9,460.9 591.2,460.6 592.6,460.3 C593.9,460.0 595.2,459.7 596.6,459.4 C597.9,459.1 599.2,458.8 600.6,458.6 C601.9,458.3 603.3,458.0 604.6,457.8 C605.9,457.6 607.3,457.3 608.6,457.1 C609.9,456.9 611.3,456.7 612.6,456.5 C614.0,456.3 615.3,456.2 616.6,456.0 C618.0,455.8 619.3,455.7 620.6,455.5 C622.0,455.4 623.3,455.3 624.7,455.2 C626.0,455.0 627.3,454.9 628.7,454.8 C630.0,454.8 631.3,454.7 632.7,454.6 C634.0,454.6 635.4,454.5 636.7,454.5 C638.0,454.4 639.4,454.4 640.7,454.4 C642.0,454.3 643.4,454.3 644.7,454.3 C646.1,454.3 647.4,454.4 648.7,454.4 C650.1,454.4 651.4,454.4 652.7,454.5 C654.1,454.5 655.4,454.5 656.8,454.6 C658.1,454.7 659.4,454.7 660.8,454.8 C662.1,454.9 663.4,454.9 664.8,455.0 C666.1,455.1 667.5,455.2 668.8,455.3 C670.1,455.4 671.5,455.5 672.8,455.6 C674.1,455.7 675.5,455.9 676.8,456.0 C678.2,456.1 679.5,456.2 680.8,456.4 C682.2,456.5 683.5,456.6 684.8,456.8 C686.2,456.9 687.5,457.1 688.9,457.2 C690.2,457.4 691.5,457.5 692.9,457.7 C694.2,457.8 695.5,458.0 696.9,458.2 C698.2,458.3 699.6,458.5 700.9,458.6 C702.2,458.8 703.6,459.0 704.9,459.2 C706.2,459.3 707.6,459.5 708.9,459.7 C710.3,459.8 711.6,460.0 712.9,460.2 C714.3,460.3 715.6,460.5 716.9,460.7 C718.3,460.8 719.6,461.0 721.0,461.2 C722.3,461.3 723.6,461.5 725.0,461.7 C726.3,461.8 727.6,462.0 729.0,462.1 C730.3,462.3 731.7,462.4 733.0,462.5 C734.3,462.7 735.7,462.8 737.0,463.0 C738.3,463.1 739.7,463.2 741.0,463.3 C742.4,463.5 743.7,463.6 745.0,463.7 C746.4,463.8 747.7,464.0 749.0,464.1 C750.4,464.2 751.7,464.3 753.1,464.4 C754.4,464.6 755.7,464.7 757.1,464.8 C758.4,465.0 759.7,465.1 761.1,465.2 C762.4,465.4 763.8,465.5 765.1,465.7 C766.4,465.9 767.8,466.0 769.1,466.2 C770.4,466.3 771.8,466.5 773.1,466.7 C774.5,466.9 775.8,467.0 777.1,467.2 C778.5,467.4 779.8,467.6 781.1,467.8 C782.5,468.0 783.8,468.2 785.2,468.4 C786.5,468.6 787.8,468.9 789.2,469.1 C790.5,469.3 791.8,469.6 793.2,469.8 C794.5,470.1 795.9,470.3 797.2,470.6 C798.5,470.9 799.9,471.2 801.2,471.5 C802.5,471.9 803.9,472.2 805.2,472.6 C806.6,472.9 807.9,473.3 809.2,473.7 C810.6,474.1 811.9,474.6 813.2,475.0 C814.6,475.5 815.9,476.0 817.3,476.5 C818.6,477.0 819.9,477.5 821.3,478.1 C822.6,478.7 823.9,479.3 825.3,480.0 C826.6,480.6 828.0,481.3 829.3,482.1 C830.6,482.8 832.0,483.6 833.3,484.4 C834.6,485.2 836.0,486.1 837.3,487.0 C838.7,487.9 840.0,488.9 841.3,489.9 C842.7,490.9 844.0,492.0 845.3,493.1 C846.7,494.2 848.0,495.4 849.4,496.6 C850.7,497.8 852.0,499.1 853.4,500.4 C854.7,501.7 856.0,503.0 857.4,504.3 C858.7,505.7 860.1,507.1 861.4,508.5 C862.7,509.9 864.1,511.4 865.4,512.8 C866.7,514.3 868.1,515.8 869.4,517.3 C870.8,518.8 872.1,520.3 873.4,521.8 C874.8,523.3 876.1,524.8 877.4,526.3 C878.8,527.8 880.1,529.3 881.5,530.8 C882.8,532.2 884.1,533.7 885.5,535.1 C886.8,536.6 888.1,538.0 889.5,539.4 C890.8,540.8 892.2,542.1 893.5,543.4 C894.8,544.8 896.2,546.1 897.5,547.3 C898.8,548.6 900.2,549.8 901.5,551.0 C902.9,552.2 904.2,553.3 905.5,554.4 C906.9,555.5 908.2,556.5 909.5,557.5 C910.9,558.5 912.2,559.5 913.6,560.4 C914.9,561.3 916.2,562.2 917.6,563.0 C918.9,563.9 920.2,564.7 921.6,565.4 C922.9,566.2 924.3,566.9 925.6,567.6 C926.9,568.2 928.3,568.9 929.6,569.5 C930.9,570.1 932.3,570.6 933.6,571.1 C935.0,571.7 936.3,572.1 937.6,572.6 C939.0,573.0 940.3,573.4 941.6,573.8 C943.0,574.2 944.3,574.5 945.7,574.8 C947.0,575.1 948.3,575.4 949.7,575.6 C951.0,575.8 952.3,576.0 953.7,576.2 C955.0,576.3 956.4,576.5 957.7,576.6 C959.0,576.7 960.4,576.7 961.7,576.8 C963.0,576.8 964.4,576.8 965.7,576.8 C967.1,576.8 968.4,576.8 969.7,576.8 C971.1,576.7 972.4,576.6 973.7,576.6 C975.1,576.5 976.4,576.4 977.8,576.2 C979.1,576.1 980.4,575.9 981.8,575.8 C983.1,575.6 984.4,575.4 985.8,575.2 C987.1,575.0 988.5,574.8 989.8,574.6 C991.1,574.4 992.5,574.1 993.8,573.9 C995.1,573.6 996.5,573.4 997.8,573.1 C999.2,572.8 1000.5,572.5 1001.8,572.2 C1003.2,571.9 1004.5,571.6 1005.8,571.3 C1007.2,571.0 1008.5,570.6 1009.9,570.3 C1011.2,569.9 1012.5,569.6 1013.9,569.2 C1015.2,568.9 1016.5,568.5 1017.9,568.1 C1019.2,567.8 1020.6,567.4 1021.9,567.0 C1023.2,566.6 1024.6,566.2 1025.9,565.8 C1027.2,565.4 1028.6,565.0 1029.9,564.5 C1031.3,564.1 1032.6,563.7 1033.9,563.3 C1035.3,562.8 1036.6,562.4 1037.9,561.9 C1039.3,561.5 1040.6,561.0 1042.0,560.6 C1043.3,560.1 1044.6,559.7 1046.0,559.2 C1047.3,558.8 1048.6,558.3 1050.0,557.8 C1051.3,557.4 1053.3,556.7 1054.0,556.5" fill="none" stroke="#3dd596" stroke-width="2.3"/><path d="M95.0,492.4 C95.7,492.4 97.7,492.3 99.0,492.3 C100.4,492.2 101.7,492.2 103.0,492.1 C104.4,492.1 105.7,492.1 107.0,492.0 C108.4,492.0 109.7,492.0 111.1,491.9 C112.4,491.9 113.7,491.9 115.1,491.9 C116.4,491.9 117.7,491.9 119.1,491.9 C120.4,491.9 121.8,491.9 123.1,491.9 C124.4,492.0 125.8,492.0 127.1,492.0 C128.4,492.1 129.8,492.1 131.1,492.2 C132.5,492.2 133.8,492.3 135.1,492.4 C136.5,492.5 137.8,492.5 139.1,492.6 C140.5,492.7 141.8,492.8 143.2,493.0 C144.5,493.1 145.8,493.2 147.2,493.3 C148.5,493.4 149.8,493.6 151.2,493.7 C152.5,493.9 153.9,494.0 155.2,494.2 C156.5,494.4 157.9,494.5 159.2,494.7 C160.5,494.9 161.9,495.1 163.2,495.3 C164.6,495.5 165.9,495.7 167.2,495.9 C168.6,496.1 169.9,496.3 171.2,496.5 C172.6,496.7 173.9,496.9 175.3,497.2 C176.6,497.4 177.9,497.6 179.3,497.9 C180.6,498.1 181.9,498.3 183.3,498.6 C184.6,498.8 186.0,499.0 187.3,499.3 C188.6,499.5 190.0,499.8 191.3,500.0 C192.6,500.3 194.0,500.6 195.3,500.8 C196.7,501.1 198.0,501.3 199.3,501.6 C200.7,501.9 202.0,502.1 203.3,502.4 C204.7,502.7 206.0,503.0 207.4,503.2 C208.7,503.5 210.0,503.8 211.4,504.1 C212.7,504.4 214.0,504.7 215.4,504.9 C216.7,505.2 218.1,505.5 219.4,505.8 C220.7,506.1 222.1,506.4 223.4,506.7 C224.7,507.0 226.1,507.3 227.4,507.7 C228.8,508.0 230.1,508.3 231.4,508.6 C232.8,508.9 234.1,509.3 235.4,509.6 C236.8,510.0 238.1,510.3 239.5,510.7 C240.8,511.0 242.1,511.4 243.5,511.8 C244.8,512.2 246.1,512.5 247.5,512.9 C248.8,513.3 250.2,513.8 251.5,514.2 C252.8,514.6 254.2,515.0 255.5,515.5 C256.8,515.9 258.2,516.4 259.5,516.8 C260.9,517.3 262.2,517.8 263.5,518.2 C264.9,518.7 266.2,519.2 267.5,519.7 C268.9,520.2 270.2,520.7 271.6,521.3 C272.9,521.8 274.2,522.3 275.6,522.8 C276.9,523.4 278.2,523.9 279.6,524.4 C280.9,524.9 282.3,525.5 283.6,526.0 C284.9,526.5 286.3,527.0 287.6,527.5 C288.9,528.0 290.3,528.5 291.6,529.0 C293.0,529.5 294.3,529.9 295.6,530.4 C297.0,530.9 298.3,531.3 299.6,531.7 C301.0,532.2 302.3,532.6 303.7,533.0 C305.0,533.4 306.3,533.8 307.7,534.2 C309.0,534.6 310.3,534.9 311.7,535.3 C313.0,535.6 314.4,535.9 315.7,536.3 C317.0,536.6 318.4,536.9 319.7,537.2 C321.0,537.5 322.4,537.7 323.7,538.0 C325.1,538.3 326.4,538.5 327.7,538.8 C329.1,539.0 330.4,539.2 331.7,539.5 C333.1,539.7 334.4,539.9 335.8,540.1 C337.1,540.3 338.4,540.5 339.8,540.7 C341.1,540.9 342.4,541.1 343.8,541.2 C345.1,541.4 346.5,541.6 347.8,541.7 C349.1,541.9 350.5,542.1 351.8,542.2 C353.1,542.4 354.5,542.5 355.8,542.6 C357.2,542.8 358.5,542.9 359.8,543.1 C361.2,543.2 362.5,543.3 363.8,543.5 C365.2,543.6 366.5,543.7 367.9,543.9 C369.2,544.0 370.5,544.1 371.9,544.2 C373.2,544.4 374.5,544.5 375.9,544.6 C377.2,544.7 378.6,544.9 379.9,545.0 C381.2,545.1 382.6,545.2 383.9,545.3 C385.2,545.4 386.6,545.5 387.9,545.7 C389.3,545.8 390.6,545.9 391.9,545.9 C393.3,546.0 394.6,546.1 395.9,546.2 C397.3,546.3 398.6,546.4 400.0,546.4 C401.3,546.5 402.6,546.6 404.0,546.6 C405.3,546.7 406.6,546.7 408.0,546.7 C409.3,546.8 410.7,546.8 412.0,546.8 C413.3,546.8 414.7,546.8 416.0,546.8 C417.3,546.8 418.7,546.8 420.0,546.8 C421.4,546.8 422.7,546.7 424.0,546.7 C425.4,546.7 426.7,546.6 428.0,546.6 C429.4,546.6 430.7,546.5 432.1,546.5 C433.4,546.4 434.7,546.4 436.1,546.3 C437.4,546.3 438.7,546.2 440.1,546.2 C441.4,546.1 442.8,546.1 444.1,546.0 C445.4,546.0 446.8,546.0 448.1,545.9 C449.4,545.9 450.8,545.8 452.1,545.8 C453.5,545.7 454.8,545.7 456.1,545.7 C457.5,545.6 458.8,545.6 460.1,545.5 C461.5,545.5 462.8,545.5 464.2,545.4 C465.5,545.4 466.8,545.4 468.2,545.3 C469.5,545.3 470.8,545.3 472.2,545.2 C473.5,545.2 474.9,545.2 476.2,545.1 C477.5,545.1 478.9,545.1 480.2,545.1 C481.5,545.0 482.9,545.0 484.2,545.0 C485.6,545.0 486.9,544.9 488.2,544.9 C489.6,544.9 490.9,544.9 492.2,544.9 C493.6,544.9 494.9,544.8 496.3,544.8 C497.6,544.8 498.9,544.8 500.3,544.8 C501.6,544.8 502.9,544.8 504.3,544.8 C505.6,544.8 507.0,544.8 508.3,544.8 C509.6,544.8 511.0,544.8 512.3,544.8 C513.6,544.8 515.0,544.8 516.3,544.8 C517.7,544.8 519.0,544.8 520.3,544.8 C521.7,544.9 523.0,544.9 524.3,544.9 C525.7,544.9 527.0,544.9 528.4,544.9 C529.7,545.0 531.0,545.0 532.4,545.0 C533.7,545.0 535.0,545.1 536.4,545.1 C537.7,545.1 539.1,545.2 540.4,545.2 C541.7,545.2 543.1,545.3 544.4,545.3 C545.7,545.3 547.1,545.4 548.4,545.4 C549.8,545.4 551.1,545.5 552.4,545.5 C553.8,545.5 555.1,545.6 556.4,545.6 C557.8,545.7 559.1,545.7 560.5,545.7 C561.8,545.8 563.1,545.8 564.5,545.8 C565.8,545.9 567.1,545.9 568.5,545.9 C569.8,546.0 571.2,546.0 572.5,546.0 C573.8,546.1 575.2,546.1 576.5,546.1 C577.8,546.2 579.2,546.2 580.5,546.2 C581.9,546.3 583.2,546.3 584.5,546.3 C585.9,546.4 587.2,546.4 588.5,546.4 C589.9,546.4 591.2,546.4 592.6,546.5 C593.9,546.5 595.2,546.5 596.6,546.5 C597.9,546.5 599.2,546.5 600.6,546.6 C601.9,546.6 603.3,546.6 604.6,546.6 C605.9,546.6 607.3,546.6 608.6,546.6 C609.9,546.6 611.3,546.6 612.6,546.6 C614.0,546.6 615.3,546.6 616.6,546.6 C618.0,546.5 619.3,546.5 620.6,546.5 C622.0,546.5 623.3,546.5 624.7,546.5 C626.0,546.5 627.3,546.4 628.7,546.4 C630.0,546.4 631.3,546.4 632.7,546.4 C634.0,546.3 635.4,546.3 636.7,546.3 C638.0,546.3 639.4,546.2 640.7,546.2 C642.0,546.2 643.4,546.1 644.7,546.1 C646.1,546.1 647.4,546.0 648.7,546.0 C650.1,546.0 651.4,545.9 652.7,545.9 C654.1,545.9 655.4,545.8 656.8,545.8 C658.1,545.8 659.4,545.7 660.8,545.7 C662.1,545.6 663.4,545.6 664.8,545.6 C666.1,545.5 667.5,545.5 668.8,545.4 C670.1,545.4 671.5,545.4 672.8,545.3 C674.1,545.3 675.5,545.3 676.8,545.2 C678.2,545.2 679.5,545.2 680.8,545.1 C682.2,545.1 683.5,545.1 684.8,545.0 C686.2,545.0 687.5,545.0 688.9,545.0 C690.2,544.9 691.5,544.9 692.9,544.9 C694.2,544.9 695.5,544.8 696.9,544.8 C698.2,544.8 699.6,544.8 700.9,544.8 C702.2,544.8 703.6,544.8 704.9,544.8 C706.2,544.8 707.6,544.8 708.9,544.8 C710.3,544.8 711.6,544.8 712.9,544.8 C714.3,544.8 715.6,544.8 716.9,544.8 C718.3,544.9 719.6,544.9 721.0,544.9 C722.3,544.9 723.6,545.0 725.0,545.0 C726.3,545.0 727.6,545.1 729.0,545.1 C730.3,545.2 731.7,545.2 733.0,545.3 C734.3,545.3 735.7,545.4 737.0,545.5 C738.3,545.5 739.7,545.6 741.0,545.7 C742.4,545.8 743.7,545.8 745.0,545.9 C746.4,546.0 747.7,546.1 749.0,546.2 C750.4,546.3 751.7,546.4 753.1,546.5 C754.4,546.6 755.7,546.7 757.1,546.8 C758.4,546.9 759.7,547.0 761.1,547.1 C762.4,547.2 763.8,547.3 765.1,547.4 C766.4,547.5 767.8,547.7 769.1,547.8 C770.4,547.9 771.8,548.0 773.1,548.1 C774.5,548.2 775.8,548.3 777.1,548.5 C778.5,548.6 779.8,548.7 781.1,548.8 C782.5,548.9 783.8,549.0 785.2,549.1 C786.5,549.2 787.8,549.3 789.2,549.4 C790.5,549.5 791.8,549.6 793.2,549.7 C794.5,549.8 795.9,549.9 797.2,550.0 C798.5,550.1 799.9,550.2 801.2,550.3 C802.5,550.4 803.9,550.5 805.2,550.5 C806.6,550.6 807.9,550.7 809.2,550.7 C810.6,550.8 811.9,550.9 813.2,550.9 C814.6,551.0 815.9,551.0 817.3,551.1 C818.6,551.1 819.9,551.2 821.3,551.2 C822.6,551.3 823.9,551.3 825.3,551.3 C826.6,551.4 828.0,551.4 829.3,551.4 C830.6,551.5 832.0,551.5 833.3,551.5 C834.6,551.5 836.0,551.5 837.3,551.5 C838.7,551.5 840.0,551.5 841.3,551.5 C842.7,551.5 844.0,551.5 845.3,551.5 C846.7,551.5 848.0,551.5 849.4,551.5 C850.7,551.5 852.0,551.4 853.4,551.4 C854.7,551.4 856.0,551.4 857.4,551.3 C858.7,551.3 860.1,551.3 861.4,551.2 C862.7,551.2 864.1,551.2 865.4,551.1 C866.7,551.1 868.1,551.1 869.4,551.0 C870.8,551.0 872.1,550.9 873.4,550.9 C874.8,550.9 876.1,550.8 877.4,550.8 C878.8,550.7 880.1,550.7 881.5,550.7 C882.8,550.6 884.1,550.6 885.5,550.5 C886.8,550.5 888.1,550.4 889.5,550.4 C890.8,550.4 892.2,550.3 893.5,550.3 C894.8,550.3 896.2,550.2 897.5,550.2 C898.8,550.1 900.2,550.1 901.5,550.1 C902.9,550.1 904.2,550.0 905.5,550.0 C906.9,550.0 908.2,550.0 909.5,550.0 C910.9,549.9 912.2,549.9 913.6,549.9 C914.9,549.9 916.2,549.9 917.6,549.9 C918.9,549.9 920.2,549.9 921.6,549.9 C922.9,549.9 924.3,549.9 925.6,549.9 C926.9,550.0 928.3,550.0 929.6,550.0 C930.9,550.0 932.3,550.1 933.6,550.1 C935.0,550.1 936.3,550.2 937.6,550.2 C939.0,550.3 940.3,550.3 941.6,550.3 C943.0,550.4 944.3,550.4 945.7,550.5 C947.0,550.6 948.3,550.6 949.7,550.7 C951.0,550.7 952.3,550.8 953.7,550.9 C955.0,550.9 956.4,551.0 957.7,551.1 C959.0,551.2 960.4,551.2 961.7,551.3 C963.0,551.4 964.4,551.5 965.7,551.6 C967.1,551.7 968.4,551.8 969.7,551.9 C971.1,552.0 972.4,552.1 973.7,552.2 C975.1,552.3 976.4,552.5 977.8,552.6 C979.1,552.7 980.4,552.9 981.8,553.0 C983.1,553.1 984.4,553.3 985.8,553.4 C987.1,553.6 988.5,553.7 989.8,553.9 C991.1,554.1 992.5,554.2 993.8,554.4 C995.1,554.5 996.5,554.7 997.8,554.9 C999.2,555.0 1000.5,555.2 1001.8,555.4 C1003.2,555.5 1004.5,555.7 1005.8,555.8 C1007.2,556.0 1008.5,556.1 1009.9,556.3 C1011.2,556.4 1012.5,556.6 1013.9,556.7 C1015.2,556.9 1016.5,557.0 1017.9,557.2 C1019.2,557.3 1020.6,557.5 1021.9,557.6 C1023.2,557.8 1024.6,557.9 1025.9,558.0 C1027.2,558.2 1028.6,558.3 1029.9,558.5 C1031.3,558.6 1032.6,558.7 1033.9,558.9 C1035.3,559.0 1036.6,559.2 1037.9,559.3 C1039.3,559.4 1040.6,559.6 1042.0,559.7 C1043.3,559.8 1044.6,560.0 1046.0,560.1 C1047.3,560.2 1048.6,560.4 1050.0,560.5 C1051.3,560.7 1053.3,560.9 1054.0,560.9" fill="none" stroke="#a5abcc" stroke-width="2.3"/>
<line x1="53" y1="656" x2="1054" y2="656" stroke="#4a5778" stroke-width="2"/>
</svg>
<div class="t title">Industry UAW</div>
<div class="t sub">Monthly avg. of daily UAW</div>
<svg style="position:absolute;left:279px;top:30px" width="25" height="26" viewBox="0 0 25 26"><g fill="none" stroke="#b4bed6" stroke-width="1.6"><rect x="4.4" y="5.5" width="15.9" height="16.6" rx="4.3"/><line x1="4.4" y1="10.2" x2="20.3" y2="10.2"/><line x1="8.6" y1="3.8" x2="8.6" y2="6.8" stroke-linecap="round"/><line x1="16.1" y1="3.8" x2="16.1" y2="6.8" stroke-linecap="round"/></g><g fill="#b4bed6"><rect x="7.6" y="13.3" width="2" height="2" rx="0.4"/><rect x="11.4" y="13.3" width="2" height="2" rx="0.4"/><rect x="7.6" y="16.2" width="2" height="2" rx="0.4"/><rect x="14.9" y="16.2" width="2" height="2" rx="0.4"/></g></svg>
<div class="t date">Q1 - Q3 2025</div>
<div class="divider"></div>
<div class="legend">
<div class="dot" style="left:10.0px;background:linear-gradient(#1670f5,#0b5fe0)"></div><div class="lt" style="left:40.8px">DeFi</div>
<div class="dot" style="left:101.5px;background:linear-gradient(#ef0f6e,#c81f63)"></div><div class="lt" style="left:132.3px">Games</div>
<div class="dot" style="left:211.5px;background:linear-gradient(#a43ff0,#7a3bc4)"></div><div class="lt" style="left:242.3px">NFT</div>
<div class="dot" style="left:300.0px;background:linear-gradient(#f0912c,#c97b37)"></div><div class="lt" style="left:331.3px">Social</div>
<div class="dot" style="left:402.5px;background:linear-gradient(#22dd82,#1db66d)"></div><div class="lt" style="left:434.3px">AI</div>
<div class="dot" style="left:476.0px;background:linear-gradient(#8d99b6,#5e6b8b)"></div><div class="lt" style="left:507.3px">Other</div>
</div>
<div class="yl" style="top:235.5px">10M</div>
<div class="yl" style="top:338.5px">7.5M</div>
<div class="yl" style="top:440.5px">5M</div>
<div class="yl" style="top:543.5px">2.5M</div>
<div class="yl" style="top:646.5px">0</div>
<div class="ml" style="left:96.00px">Jan</div>
<div class="ml" style="left:202.40px">Feb</div>
<div class="ml" style="left:310.50px">Mar</div>
<div class="ml" style="left:417.65px">Apr</div>
<div class="ml" style="left:525.70px">May</div>
<div class="ml" style="left:635.00px">Jun</div>
<div class="ml" style="left:739.20px">Jul</div>
<div class="ml" style="left:844.80px">Aug</div>
<div class="ml" style="left:953.80px">Sep</div>
<svg style="position:absolute;left:1003px;top:35px" width="50" height="48" viewBox="0 0 50 48"><g opacity="1"><path d="M7,24.1 L15,7.65 L35.3,7.65 L43.3,24.1 L35.3,40.6 L15,40.6 Z" fill="#0b6cf5" stroke="#0b6cf5" stroke-width="12" stroke-linejoin="round"/></g><g opacity="1"><g fill="none" stroke="#f4fcff" stroke-width="3.4"><path d="M25.3,38.0 A13.7,13.7 0 1 0 15.61,33.99 L25.3,24.3"/><path d="M25.3,31.6 A7.3,7.3 0 1 0 20.14,29.46"/></g><circle cx="25.3" cy="24.3" r="3.2" fill="#f4fcff"/></g></svg>
</body></html>
